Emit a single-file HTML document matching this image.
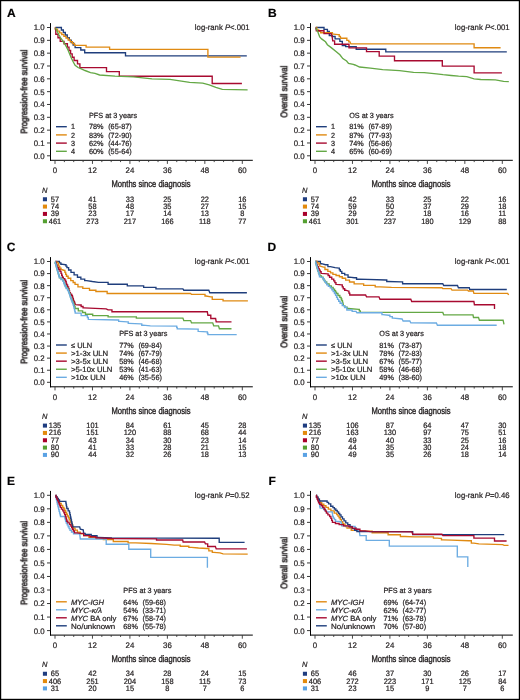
<!DOCTYPE html>
<html><head><meta charset="utf-8"><title>Survival curves</title>
<style>
html,body{margin:0;padding:0;background:#fff;}
body{width:520px;height:700px;overflow:hidden;}
svg{display:block;font-family:"Liberation Sans", sans-serif;text-rendering:geometricPrecision;}
text{will-change:transform;stroke:#231f20;stroke-width:0.22px;}
text.at{stroke-width:0.38px;}
text.yt{stroke-width:0.55px;}
</style></head><body>
<svg width="520" height="700" viewBox="0 0 520 700">
<rect x="0" y="0" width="520" height="700" fill="#fff"/>
<text transform="translate(7.00,16.70)" font-size="12" font-weight="bold" fill="#000">A</text>
<text transform="translate(249.60,29.80) scale(0.965,1)" font-size="8" text-anchor="end" fill="#231f20">log-rank <tspan font-style="italic">P</tspan>&lt;.001</text>
<line x1="50.50" y1="23.10" x2="50.50" y2="160.80" stroke="#000" stroke-width="1.0"/>
<line x1="50.00" y1="160.30" x2="252.80" y2="160.30" stroke="#000" stroke-width="1.0"/>
<line x1="47.00" y1="155.80" x2="50.50" y2="155.80" stroke="#222" stroke-width="0.9"/>
<text transform="translate(44.60,158.70) scale(0.98,1)" font-size="8" text-anchor="end" fill="#231f20">0.0</text>
<line x1="47.00" y1="142.97" x2="50.50" y2="142.97" stroke="#222" stroke-width="0.9"/>
<text transform="translate(44.60,145.87) scale(0.98,1)" font-size="8" text-anchor="end" fill="#231f20">0.1</text>
<line x1="47.00" y1="130.14" x2="50.50" y2="130.14" stroke="#222" stroke-width="0.9"/>
<text transform="translate(44.60,133.04) scale(0.98,1)" font-size="8" text-anchor="end" fill="#231f20">0.2</text>
<line x1="47.00" y1="117.31" x2="50.50" y2="117.31" stroke="#222" stroke-width="0.9"/>
<text transform="translate(44.60,120.21) scale(0.98,1)" font-size="8" text-anchor="end" fill="#231f20">0.3</text>
<line x1="47.00" y1="104.48" x2="50.50" y2="104.48" stroke="#222" stroke-width="0.9"/>
<text transform="translate(44.60,107.38) scale(0.98,1)" font-size="8" text-anchor="end" fill="#231f20">0.4</text>
<line x1="47.00" y1="91.65" x2="50.50" y2="91.65" stroke="#222" stroke-width="0.9"/>
<text transform="translate(44.60,94.55) scale(0.98,1)" font-size="8" text-anchor="end" fill="#231f20">0.5</text>
<line x1="47.00" y1="78.82" x2="50.50" y2="78.82" stroke="#222" stroke-width="0.9"/>
<text transform="translate(44.60,81.72) scale(0.98,1)" font-size="8" text-anchor="end" fill="#231f20">0.6</text>
<line x1="47.00" y1="65.99" x2="50.50" y2="65.99" stroke="#222" stroke-width="0.9"/>
<text transform="translate(44.60,68.89) scale(0.98,1)" font-size="8" text-anchor="end" fill="#231f20">0.7</text>
<line x1="47.00" y1="53.16" x2="50.50" y2="53.16" stroke="#222" stroke-width="0.9"/>
<text transform="translate(44.60,56.06) scale(0.98,1)" font-size="8" text-anchor="end" fill="#231f20">0.8</text>
<line x1="47.00" y1="40.33" x2="50.50" y2="40.33" stroke="#222" stroke-width="0.9"/>
<text transform="translate(44.60,43.23) scale(0.98,1)" font-size="8" text-anchor="end" fill="#231f20">0.9</text>
<line x1="47.00" y1="27.50" x2="50.50" y2="27.50" stroke="#222" stroke-width="0.9"/>
<text transform="translate(44.60,30.40) scale(0.98,1)" font-size="8" text-anchor="end" fill="#231f20">1.0</text>
<line x1="55.00" y1="160.30" x2="55.00" y2="163.90" stroke="#333" stroke-width="0.9"/>
<text transform="translate(55.00,173.30) scale(0.98,1)" font-size="8" text-anchor="middle" fill="#231f20">0</text>
<line x1="64.37" y1="160.30" x2="64.37" y2="162.10" stroke="#333" stroke-width="0.9"/>
<line x1="73.73" y1="160.30" x2="73.73" y2="162.10" stroke="#333" stroke-width="0.9"/>
<line x1="83.10" y1="160.30" x2="83.10" y2="162.10" stroke="#333" stroke-width="0.9"/>
<line x1="92.46" y1="160.30" x2="92.46" y2="163.90" stroke="#333" stroke-width="0.9"/>
<text transform="translate(92.46,173.30) scale(0.98,1)" font-size="8" text-anchor="middle" fill="#231f20">12</text>
<line x1="101.83" y1="160.30" x2="101.83" y2="162.10" stroke="#333" stroke-width="0.9"/>
<line x1="111.19" y1="160.30" x2="111.19" y2="162.10" stroke="#333" stroke-width="0.9"/>
<line x1="120.56" y1="160.30" x2="120.56" y2="162.10" stroke="#333" stroke-width="0.9"/>
<line x1="129.92" y1="160.30" x2="129.92" y2="163.90" stroke="#333" stroke-width="0.9"/>
<text transform="translate(129.92,173.30) scale(0.98,1)" font-size="8" text-anchor="middle" fill="#231f20">24</text>
<line x1="139.29" y1="160.30" x2="139.29" y2="162.10" stroke="#333" stroke-width="0.9"/>
<line x1="148.65" y1="160.30" x2="148.65" y2="162.10" stroke="#333" stroke-width="0.9"/>
<line x1="158.02" y1="160.30" x2="158.02" y2="162.10" stroke="#333" stroke-width="0.9"/>
<line x1="167.38" y1="160.30" x2="167.38" y2="163.90" stroke="#333" stroke-width="0.9"/>
<text transform="translate(167.38,173.30) scale(0.98,1)" font-size="8" text-anchor="middle" fill="#231f20">36</text>
<line x1="176.75" y1="160.30" x2="176.75" y2="162.10" stroke="#333" stroke-width="0.9"/>
<line x1="186.11" y1="160.30" x2="186.11" y2="162.10" stroke="#333" stroke-width="0.9"/>
<line x1="195.48" y1="160.30" x2="195.48" y2="162.10" stroke="#333" stroke-width="0.9"/>
<line x1="204.84" y1="160.30" x2="204.84" y2="163.90" stroke="#333" stroke-width="0.9"/>
<text transform="translate(204.84,173.30) scale(0.98,1)" font-size="8" text-anchor="middle" fill="#231f20">48</text>
<line x1="214.21" y1="160.30" x2="214.21" y2="162.10" stroke="#333" stroke-width="0.9"/>
<line x1="223.57" y1="160.30" x2="223.57" y2="162.10" stroke="#333" stroke-width="0.9"/>
<line x1="232.94" y1="160.30" x2="232.94" y2="162.10" stroke="#333" stroke-width="0.9"/>
<line x1="242.30" y1="160.30" x2="242.30" y2="163.90" stroke="#333" stroke-width="0.9"/>
<text transform="translate(242.30,173.30) scale(0.98,1)" font-size="8" text-anchor="middle" fill="#231f20">60</text>
<text transform="translate(151.00,187.10) scale(0.8,1)" font-size="9.5" text-anchor="middle" fill="#231f20" class="at">Months since diagnosis</text>
<text transform="translate(27.30,91.65) rotate(-90) scale(0.80,1)" font-size="9.5" text-anchor="middle" fill="#231f20" class="yt">Progression-free survival</text>
<text transform="translate(89.00,117.80) scale(0.97,1)" font-size="7.5" fill="#231f20">PFS at 3 years</text>
<line x1="56.00" y1="126.70" x2="66.80" y2="126.70" stroke="#1f3e7c" stroke-width="1.4"/>
<text transform="translate(71.00,129.40) scale(0.97,1)" font-size="7.5" fill="#231f20">1</text>
<text transform="translate(89.00,129.40) scale(0.97,1)" font-size="7.5" fill="#231f20">78%</text>
<text transform="translate(108.20,129.40) scale(0.97,1)" font-size="7.5" fill="#231f20">(65-87)</text>
<line x1="56.00" y1="134.90" x2="66.80" y2="134.90" stroke="#e08a12" stroke-width="1.4"/>
<text transform="translate(71.00,137.60) scale(0.97,1)" font-size="7.5" fill="#231f20">2</text>
<text transform="translate(89.00,137.60) scale(0.97,1)" font-size="7.5" fill="#231f20">83%</text>
<text transform="translate(108.20,137.60) scale(0.97,1)" font-size="7.5" fill="#231f20">(72-90)</text>
<line x1="56.00" y1="143.10" x2="66.80" y2="143.10" stroke="#a80a30" stroke-width="1.4"/>
<text transform="translate(71.00,145.80) scale(0.97,1)" font-size="7.5" fill="#231f20">3</text>
<text transform="translate(89.00,145.80) scale(0.97,1)" font-size="7.5" fill="#231f20">62%</text>
<text transform="translate(108.20,145.80) scale(0.97,1)" font-size="7.5" fill="#231f20">(44-76)</text>
<line x1="56.00" y1="151.30" x2="66.80" y2="151.30" stroke="#64a845" stroke-width="1.4"/>
<text transform="translate(71.00,154.00) scale(0.97,1)" font-size="7.5" fill="#231f20">4</text>
<text transform="translate(89.00,154.00) scale(0.97,1)" font-size="7.5" fill="#231f20">60%</text>
<text transform="translate(108.20,154.00) scale(0.97,1)" font-size="7.5" fill="#231f20">(55-64)</text>
<text transform="translate(42.10,192.95)" font-size="7.5" font-style="italic" fill="#231f20">N</text>
<rect x="42.90" y="197.25" width="4.1" height="4" fill="#1f3d80"/>
<text transform="translate(55.00,201.80) scale(0.95,1)" font-size="7.8" text-anchor="middle" fill="#231f20">57</text>
<text transform="translate(92.46,201.80) scale(0.95,1)" font-size="7.8" text-anchor="middle" fill="#231f20">41</text>
<text transform="translate(129.92,201.80) scale(0.95,1)" font-size="7.8" text-anchor="middle" fill="#231f20">33</text>
<text transform="translate(167.38,201.80) scale(0.95,1)" font-size="7.8" text-anchor="middle" fill="#231f20">25</text>
<text transform="translate(204.84,201.80) scale(0.95,1)" font-size="7.8" text-anchor="middle" fill="#231f20">22</text>
<text transform="translate(242.30,201.80) scale(0.95,1)" font-size="7.8" text-anchor="middle" fill="#231f20">16</text>
<rect x="42.90" y="204.58" width="4.1" height="4" fill="#e38a0c"/>
<text transform="translate(55.00,209.13) scale(0.95,1)" font-size="7.8" text-anchor="middle" fill="#231f20">74</text>
<text transform="translate(92.46,209.13) scale(0.95,1)" font-size="7.8" text-anchor="middle" fill="#231f20">58</text>
<text transform="translate(129.92,209.13) scale(0.95,1)" font-size="7.8" text-anchor="middle" fill="#231f20">48</text>
<text transform="translate(167.38,209.13) scale(0.95,1)" font-size="7.8" text-anchor="middle" fill="#231f20">35</text>
<text transform="translate(204.84,209.13) scale(0.95,1)" font-size="7.8" text-anchor="middle" fill="#231f20">27</text>
<text transform="translate(242.30,209.13) scale(0.95,1)" font-size="7.8" text-anchor="middle" fill="#231f20">15</text>
<rect x="42.90" y="211.91" width="4.1" height="4" fill="#a8002a"/>
<text transform="translate(55.00,216.46) scale(0.95,1)" font-size="7.8" text-anchor="middle" fill="#231f20">39</text>
<text transform="translate(92.46,216.46) scale(0.95,1)" font-size="7.8" text-anchor="middle" fill="#231f20">23</text>
<text transform="translate(129.92,216.46) scale(0.95,1)" font-size="7.8" text-anchor="middle" fill="#231f20">17</text>
<text transform="translate(167.38,216.46) scale(0.95,1)" font-size="7.8" text-anchor="middle" fill="#231f20">14</text>
<text transform="translate(204.84,216.46) scale(0.95,1)" font-size="7.8" text-anchor="middle" fill="#231f20">13</text>
<text transform="translate(242.30,216.46) scale(0.95,1)" font-size="7.8" text-anchor="middle" fill="#231f20">8</text>
<rect x="42.90" y="219.24" width="4.1" height="4" fill="#55a032"/>
<text transform="translate(55.00,223.79) scale(0.95,1)" font-size="7.8" text-anchor="middle" fill="#231f20">461</text>
<text transform="translate(92.46,223.79) scale(0.95,1)" font-size="7.8" text-anchor="middle" fill="#231f20">273</text>
<text transform="translate(129.92,223.79) scale(0.95,1)" font-size="7.8" text-anchor="middle" fill="#231f20">217</text>
<text transform="translate(167.38,223.79) scale(0.95,1)" font-size="7.8" text-anchor="middle" fill="#231f20">166</text>
<text transform="translate(204.84,223.79) scale(0.95,1)" font-size="7.8" text-anchor="middle" fill="#231f20">118</text>
<text transform="translate(242.30,223.79) scale(0.95,1)" font-size="7.8" text-anchor="middle" fill="#231f20">77</text>
<polyline points="55.40,27.50 61.40,27.50 61.40,30.01 63.36,30.01 63.36,32.52 65.31,32.52 65.31,35.04 67.27,35.04 67.27,37.55 69.23,37.55 69.23,40.06 71.19,40.06 71.19,42.58 73.14,42.58 73.14,45.09 75.10,45.09 75.10,47.60 80.80,47.60 80.80,50.00 84.70,50.00 84.70,52.70 125.50,52.70 125.50,55.80 246.80,55.80" fill="none" stroke="#1f3e7c" stroke-width="1.35" stroke-linejoin="miter" stroke-linecap="butt"/>
<polyline points="55.40,27.50 55.40,29.28 57.52,29.28 57.52,31.06 59.64,31.06 59.64,32.84 61.77,32.84 61.77,34.62 63.89,34.62 63.89,36.40 66.01,36.40 66.01,38.18 68.13,38.18 68.13,39.96 70.26,39.96 70.26,41.74 72.38,41.74 72.38,43.52 74.50,43.52 74.50,45.30 86.10,45.30 86.10,47.10 109.60,47.10 109.60,49.40 207.90,49.40 207.90,57.10 240.60,57.10" fill="none" stroke="#e08a12" stroke-width="1.35" stroke-linejoin="miter" stroke-linecap="butt"/>
<polyline points="55.20,27.50 55.80,30.70 55.80,34.23 58.00,34.23 58.00,37.77 60.20,37.77 60.20,41.30 64.00,41.30 64.00,43.70 67.40,43.70 67.40,47.08 69.00,47.08 69.00,50.45 70.60,50.45 70.60,53.83 72.20,53.83 72.20,57.20 74.10,57.20 74.10,60.50 77.50,60.50 77.50,63.90 79.90,63.90 79.90,67.60 106.50,67.60 106.50,71.60 119.30,71.60 119.30,76.20 212.20,76.20 212.20,83.50 241.90,83.50" fill="none" stroke="#a80a30" stroke-width="1.35" stroke-linejoin="miter" stroke-linecap="butt"/>
<polyline points="55.40,27.70 57.00,31.00 59.00,35.00 61.00,38.50 63.50,42.00 65.50,45.20 68.00,50.00 71.20,57.70 73.00,61.50 75.10,65.30 78.00,67.50 80.80,68.70 85.00,70.50 90.50,72.60 95.00,73.40 99.60,75.00 115.00,76.20 133.50,76.80 152.00,78.80 170.00,79.30 179.80,80.80 189.60,82.40 202.70,83.20 209.20,84.90 215.80,87.30 222.30,89.40 247.60,89.80" fill="none" stroke="#64a845" stroke-width="1.35" stroke-linejoin="miter" stroke-linecap="butt"/>
<text transform="translate(267.90,16.70)" font-size="12" font-weight="bold" fill="#000">B</text>
<text transform="translate(509.60,29.80) scale(0.965,1)" font-size="8" text-anchor="end" fill="#231f20">log-rank <tspan font-style="italic">P</tspan>&lt;.001</text>
<line x1="310.50" y1="23.10" x2="310.50" y2="160.80" stroke="#000" stroke-width="1.0"/>
<line x1="310.00" y1="160.30" x2="512.80" y2="160.30" stroke="#000" stroke-width="1.0"/>
<line x1="307.00" y1="155.80" x2="310.50" y2="155.80" stroke="#222" stroke-width="0.9"/>
<text transform="translate(304.60,158.70) scale(0.98,1)" font-size="8" text-anchor="end" fill="#231f20">0.0</text>
<line x1="307.00" y1="142.97" x2="310.50" y2="142.97" stroke="#222" stroke-width="0.9"/>
<text transform="translate(304.60,145.87) scale(0.98,1)" font-size="8" text-anchor="end" fill="#231f20">0.1</text>
<line x1="307.00" y1="130.14" x2="310.50" y2="130.14" stroke="#222" stroke-width="0.9"/>
<text transform="translate(304.60,133.04) scale(0.98,1)" font-size="8" text-anchor="end" fill="#231f20">0.2</text>
<line x1="307.00" y1="117.31" x2="310.50" y2="117.31" stroke="#222" stroke-width="0.9"/>
<text transform="translate(304.60,120.21) scale(0.98,1)" font-size="8" text-anchor="end" fill="#231f20">0.3</text>
<line x1="307.00" y1="104.48" x2="310.50" y2="104.48" stroke="#222" stroke-width="0.9"/>
<text transform="translate(304.60,107.38) scale(0.98,1)" font-size="8" text-anchor="end" fill="#231f20">0.4</text>
<line x1="307.00" y1="91.65" x2="310.50" y2="91.65" stroke="#222" stroke-width="0.9"/>
<text transform="translate(304.60,94.55) scale(0.98,1)" font-size="8" text-anchor="end" fill="#231f20">0.5</text>
<line x1="307.00" y1="78.82" x2="310.50" y2="78.82" stroke="#222" stroke-width="0.9"/>
<text transform="translate(304.60,81.72) scale(0.98,1)" font-size="8" text-anchor="end" fill="#231f20">0.6</text>
<line x1="307.00" y1="65.99" x2="310.50" y2="65.99" stroke="#222" stroke-width="0.9"/>
<text transform="translate(304.60,68.89) scale(0.98,1)" font-size="8" text-anchor="end" fill="#231f20">0.7</text>
<line x1="307.00" y1="53.16" x2="310.50" y2="53.16" stroke="#222" stroke-width="0.9"/>
<text transform="translate(304.60,56.06) scale(0.98,1)" font-size="8" text-anchor="end" fill="#231f20">0.8</text>
<line x1="307.00" y1="40.33" x2="310.50" y2="40.33" stroke="#222" stroke-width="0.9"/>
<text transform="translate(304.60,43.23) scale(0.98,1)" font-size="8" text-anchor="end" fill="#231f20">0.9</text>
<line x1="307.00" y1="27.50" x2="310.50" y2="27.50" stroke="#222" stroke-width="0.9"/>
<text transform="translate(304.60,30.40) scale(0.98,1)" font-size="8" text-anchor="end" fill="#231f20">1.0</text>
<line x1="315.00" y1="160.30" x2="315.00" y2="163.90" stroke="#333" stroke-width="0.9"/>
<text transform="translate(315.00,173.30) scale(0.98,1)" font-size="8" text-anchor="middle" fill="#231f20">0</text>
<line x1="324.37" y1="160.30" x2="324.37" y2="162.10" stroke="#333" stroke-width="0.9"/>
<line x1="333.73" y1="160.30" x2="333.73" y2="162.10" stroke="#333" stroke-width="0.9"/>
<line x1="343.10" y1="160.30" x2="343.10" y2="162.10" stroke="#333" stroke-width="0.9"/>
<line x1="352.46" y1="160.30" x2="352.46" y2="163.90" stroke="#333" stroke-width="0.9"/>
<text transform="translate(352.46,173.30) scale(0.98,1)" font-size="8" text-anchor="middle" fill="#231f20">12</text>
<line x1="361.83" y1="160.30" x2="361.83" y2="162.10" stroke="#333" stroke-width="0.9"/>
<line x1="371.19" y1="160.30" x2="371.19" y2="162.10" stroke="#333" stroke-width="0.9"/>
<line x1="380.56" y1="160.30" x2="380.56" y2="162.10" stroke="#333" stroke-width="0.9"/>
<line x1="389.92" y1="160.30" x2="389.92" y2="163.90" stroke="#333" stroke-width="0.9"/>
<text transform="translate(389.92,173.30) scale(0.98,1)" font-size="8" text-anchor="middle" fill="#231f20">24</text>
<line x1="399.29" y1="160.30" x2="399.29" y2="162.10" stroke="#333" stroke-width="0.9"/>
<line x1="408.65" y1="160.30" x2="408.65" y2="162.10" stroke="#333" stroke-width="0.9"/>
<line x1="418.02" y1="160.30" x2="418.02" y2="162.10" stroke="#333" stroke-width="0.9"/>
<line x1="427.38" y1="160.30" x2="427.38" y2="163.90" stroke="#333" stroke-width="0.9"/>
<text transform="translate(427.38,173.30) scale(0.98,1)" font-size="8" text-anchor="middle" fill="#231f20">36</text>
<line x1="436.75" y1="160.30" x2="436.75" y2="162.10" stroke="#333" stroke-width="0.9"/>
<line x1="446.11" y1="160.30" x2="446.11" y2="162.10" stroke="#333" stroke-width="0.9"/>
<line x1="455.48" y1="160.30" x2="455.48" y2="162.10" stroke="#333" stroke-width="0.9"/>
<line x1="464.84" y1="160.30" x2="464.84" y2="163.90" stroke="#333" stroke-width="0.9"/>
<text transform="translate(464.84,173.30) scale(0.98,1)" font-size="8" text-anchor="middle" fill="#231f20">48</text>
<line x1="474.21" y1="160.30" x2="474.21" y2="162.10" stroke="#333" stroke-width="0.9"/>
<line x1="483.57" y1="160.30" x2="483.57" y2="162.10" stroke="#333" stroke-width="0.9"/>
<line x1="492.94" y1="160.30" x2="492.94" y2="162.10" stroke="#333" stroke-width="0.9"/>
<line x1="502.30" y1="160.30" x2="502.30" y2="163.90" stroke="#333" stroke-width="0.9"/>
<text transform="translate(502.30,173.30) scale(0.98,1)" font-size="8" text-anchor="middle" fill="#231f20">60</text>
<text transform="translate(411.00,187.10) scale(0.8,1)" font-size="9.5" text-anchor="middle" fill="#231f20" class="at">Months since diagnosis</text>
<text transform="translate(287.30,91.65) rotate(-90) scale(0.80,1)" font-size="9.5" text-anchor="middle" fill="#231f20" class="yt">Overall survival</text>
<text transform="translate(349.20,117.80) scale(0.97,1)" font-size="7.5" fill="#231f20">OS at 3 years</text>
<line x1="316.00" y1="126.70" x2="326.80" y2="126.70" stroke="#1f3e7c" stroke-width="1.4"/>
<text transform="translate(331.00,129.40) scale(0.97,1)" font-size="7.5" fill="#231f20">1</text>
<text transform="translate(349.20,129.40) scale(0.97,1)" font-size="7.5" fill="#231f20">81%</text>
<text transform="translate(368.40,129.40) scale(0.97,1)" font-size="7.5" fill="#231f20">(67-89)</text>
<line x1="316.00" y1="134.90" x2="326.80" y2="134.90" stroke="#e08a12" stroke-width="1.4"/>
<text transform="translate(331.00,137.60) scale(0.97,1)" font-size="7.5" fill="#231f20">2</text>
<text transform="translate(349.20,137.60) scale(0.97,1)" font-size="7.5" fill="#231f20">87%</text>
<text transform="translate(368.40,137.60) scale(0.97,1)" font-size="7.5" fill="#231f20">(77-93)</text>
<line x1="316.00" y1="143.10" x2="326.80" y2="143.10" stroke="#a80a30" stroke-width="1.4"/>
<text transform="translate(331.00,145.80) scale(0.97,1)" font-size="7.5" fill="#231f20">3</text>
<text transform="translate(349.20,145.80) scale(0.97,1)" font-size="7.5" fill="#231f20">74%</text>
<text transform="translate(368.40,145.80) scale(0.97,1)" font-size="7.5" fill="#231f20">(56-86)</text>
<line x1="316.00" y1="151.30" x2="326.80" y2="151.30" stroke="#64a845" stroke-width="1.4"/>
<text transform="translate(331.00,154.00) scale(0.97,1)" font-size="7.5" fill="#231f20">4</text>
<text transform="translate(349.20,154.00) scale(0.97,1)" font-size="7.5" fill="#231f20">65%</text>
<text transform="translate(368.40,154.00) scale(0.97,1)" font-size="7.5" fill="#231f20">(60-69)</text>
<text transform="translate(302.10,192.95)" font-size="7.5" font-style="italic" fill="#231f20">N</text>
<rect x="302.90" y="197.25" width="4.1" height="4" fill="#1f3d80"/>
<text transform="translate(315.00,201.80) scale(0.95,1)" font-size="7.8" text-anchor="middle" fill="#231f20">57</text>
<text transform="translate(352.46,201.80) scale(0.95,1)" font-size="7.8" text-anchor="middle" fill="#231f20">42</text>
<text transform="translate(389.92,201.80) scale(0.95,1)" font-size="7.8" text-anchor="middle" fill="#231f20">33</text>
<text transform="translate(427.38,201.80) scale(0.95,1)" font-size="7.8" text-anchor="middle" fill="#231f20">25</text>
<text transform="translate(464.84,201.80) scale(0.95,1)" font-size="7.8" text-anchor="middle" fill="#231f20">22</text>
<text transform="translate(502.30,201.80) scale(0.95,1)" font-size="7.8" text-anchor="middle" fill="#231f20">16</text>
<rect x="302.90" y="204.58" width="4.1" height="4" fill="#e38a0c"/>
<text transform="translate(315.00,209.13) scale(0.95,1)" font-size="7.8" text-anchor="middle" fill="#231f20">74</text>
<text transform="translate(352.46,209.13) scale(0.95,1)" font-size="7.8" text-anchor="middle" fill="#231f20">59</text>
<text transform="translate(389.92,209.13) scale(0.95,1)" font-size="7.8" text-anchor="middle" fill="#231f20">50</text>
<text transform="translate(427.38,209.13) scale(0.95,1)" font-size="7.8" text-anchor="middle" fill="#231f20">37</text>
<text transform="translate(464.84,209.13) scale(0.95,1)" font-size="7.8" text-anchor="middle" fill="#231f20">29</text>
<text transform="translate(502.30,209.13) scale(0.95,1)" font-size="7.8" text-anchor="middle" fill="#231f20">18</text>
<rect x="302.90" y="211.91" width="4.1" height="4" fill="#a8002a"/>
<text transform="translate(315.00,216.46) scale(0.95,1)" font-size="7.8" text-anchor="middle" fill="#231f20">39</text>
<text transform="translate(352.46,216.46) scale(0.95,1)" font-size="7.8" text-anchor="middle" fill="#231f20">29</text>
<text transform="translate(389.92,216.46) scale(0.95,1)" font-size="7.8" text-anchor="middle" fill="#231f20">22</text>
<text transform="translate(427.38,216.46) scale(0.95,1)" font-size="7.8" text-anchor="middle" fill="#231f20">18</text>
<text transform="translate(464.84,216.46) scale(0.95,1)" font-size="7.8" text-anchor="middle" fill="#231f20">16</text>
<text transform="translate(502.30,216.46) scale(0.95,1)" font-size="7.8" text-anchor="middle" fill="#231f20">11</text>
<rect x="302.90" y="219.24" width="4.1" height="4" fill="#55a032"/>
<text transform="translate(315.00,223.79) scale(0.95,1)" font-size="7.8" text-anchor="middle" fill="#231f20">461</text>
<text transform="translate(352.46,223.79) scale(0.95,1)" font-size="7.8" text-anchor="middle" fill="#231f20">301</text>
<text transform="translate(389.92,223.79) scale(0.95,1)" font-size="7.8" text-anchor="middle" fill="#231f20">237</text>
<text transform="translate(427.38,223.79) scale(0.95,1)" font-size="7.8" text-anchor="middle" fill="#231f20">180</text>
<text transform="translate(464.84,223.79) scale(0.95,1)" font-size="7.8" text-anchor="middle" fill="#231f20">129</text>
<text transform="translate(502.30,223.79) scale(0.95,1)" font-size="7.8" text-anchor="middle" fill="#231f20">88</text>
<polyline points="315.80,27.50 324.00,27.50 324.00,29.30 327.40,29.30 327.40,31.50 329.30,31.50 329.30,35.50 332.20,35.50 332.20,36.50 335.10,36.50 335.10,38.90 339.90,38.90 339.90,41.30 342.30,41.30 342.30,45.60 345.70,45.60 345.70,46.60 356.20,46.60 356.20,49.20 385.80,49.20 385.80,51.90 506.80,51.90" fill="none" stroke="#1f3e7c" stroke-width="1.35" stroke-linejoin="miter" stroke-linecap="butt"/>
<polyline points="315.80,27.50 316.80,27.50 316.80,29.80 317.80,29.80 318.75,29.80 318.75,31.25 320.65,31.25 320.65,32.70 321.60,32.70 331.20,32.70 332.40,32.70 332.40,34.10 333.60,34.10 338.00,34.60 339.20,34.60 339.20,36.50 340.40,36.50 340.80,38.20 346.10,38.20 346.85,38.20 346.85,40.30 347.60,40.30 348.80,40.30 348.80,41.80 350.00,41.80 350.90,43.90 474.10,43.90 474.10,47.70 500.60,47.70" fill="none" stroke="#e08a12" stroke-width="1.35" stroke-linejoin="miter" stroke-linecap="butt"/>
<polyline points="315.80,27.50 316.30,30.70 324.00,30.70 324.00,33.60 331.20,33.60 332.20,37.00 332.70,40.80 334.60,40.80 334.60,44.20 349.00,44.20 349.00,47.80 366.50,47.80 366.50,51.60 379.20,51.60 379.20,56.10 394.50,56.10 394.50,60.70 442.30,60.70 442.30,66.10 474.10,66.10 474.10,72.90 501.90,72.90" fill="none" stroke="#a80a30" stroke-width="1.35" stroke-linejoin="miter" stroke-linecap="butt"/>
<polyline points="315.80,27.70 317.80,31.70 319.70,37.00 321.60,38.90 325.50,41.80 327.40,44.70 331.20,47.60 336.00,51.40 339.90,54.80 342.80,58.60 346.60,61.00 348.50,63.40 353.30,64.40 355.00,65.00 359.60,67.00 370.40,68.10 382.70,69.60 399.60,70.70 413.50,72.40 424.20,72.70 436.50,73.90 443.10,74.70 451.20,75.50 458.60,76.20 466.80,76.70 474.10,78.80 480.70,79.50 495.40,79.90 503.60,81.30 508.80,81.60" fill="none" stroke="#64a845" stroke-width="1.35" stroke-linejoin="miter" stroke-linecap="butt"/>
<text transform="translate(6.70,250.70)" font-size="12" font-weight="bold" fill="#000">C</text>
<text transform="translate(249.60,263.80) scale(0.965,1)" font-size="8" text-anchor="end" fill="#231f20">log-rank <tspan font-style="italic">P</tspan>&lt;.001</text>
<line x1="50.50" y1="257.10" x2="50.50" y2="387.30" stroke="#000" stroke-width="1.0"/>
<line x1="50.00" y1="386.80" x2="252.80" y2="386.80" stroke="#000" stroke-width="1.0"/>
<line x1="47.00" y1="382.30" x2="50.50" y2="382.30" stroke="#222" stroke-width="0.9"/>
<text transform="translate(44.60,385.20) scale(0.98,1)" font-size="8" text-anchor="end" fill="#231f20">0.0</text>
<line x1="47.00" y1="370.22" x2="50.50" y2="370.22" stroke="#222" stroke-width="0.9"/>
<text transform="translate(44.60,373.12) scale(0.98,1)" font-size="8" text-anchor="end" fill="#231f20">0.1</text>
<line x1="47.00" y1="358.14" x2="50.50" y2="358.14" stroke="#222" stroke-width="0.9"/>
<text transform="translate(44.60,361.04) scale(0.98,1)" font-size="8" text-anchor="end" fill="#231f20">0.2</text>
<line x1="47.00" y1="346.06" x2="50.50" y2="346.06" stroke="#222" stroke-width="0.9"/>
<text transform="translate(44.60,348.96) scale(0.98,1)" font-size="8" text-anchor="end" fill="#231f20">0.3</text>
<line x1="47.00" y1="333.98" x2="50.50" y2="333.98" stroke="#222" stroke-width="0.9"/>
<text transform="translate(44.60,336.88) scale(0.98,1)" font-size="8" text-anchor="end" fill="#231f20">0.4</text>
<line x1="47.00" y1="321.90" x2="50.50" y2="321.90" stroke="#222" stroke-width="0.9"/>
<text transform="translate(44.60,324.80) scale(0.98,1)" font-size="8" text-anchor="end" fill="#231f20">0.5</text>
<line x1="47.00" y1="309.82" x2="50.50" y2="309.82" stroke="#222" stroke-width="0.9"/>
<text transform="translate(44.60,312.72) scale(0.98,1)" font-size="8" text-anchor="end" fill="#231f20">0.6</text>
<line x1="47.00" y1="297.74" x2="50.50" y2="297.74" stroke="#222" stroke-width="0.9"/>
<text transform="translate(44.60,300.64) scale(0.98,1)" font-size="8" text-anchor="end" fill="#231f20">0.7</text>
<line x1="47.00" y1="285.66" x2="50.50" y2="285.66" stroke="#222" stroke-width="0.9"/>
<text transform="translate(44.60,288.56) scale(0.98,1)" font-size="8" text-anchor="end" fill="#231f20">0.8</text>
<line x1="47.00" y1="273.58" x2="50.50" y2="273.58" stroke="#222" stroke-width="0.9"/>
<text transform="translate(44.60,276.48) scale(0.98,1)" font-size="8" text-anchor="end" fill="#231f20">0.9</text>
<line x1="47.00" y1="261.50" x2="50.50" y2="261.50" stroke="#222" stroke-width="0.9"/>
<text transform="translate(44.60,264.40) scale(0.98,1)" font-size="8" text-anchor="end" fill="#231f20">1.0</text>
<line x1="55.00" y1="386.80" x2="55.00" y2="390.40" stroke="#333" stroke-width="0.9"/>
<text transform="translate(55.00,399.80) scale(0.98,1)" font-size="8" text-anchor="middle" fill="#231f20">0</text>
<line x1="64.37" y1="386.80" x2="64.37" y2="388.60" stroke="#333" stroke-width="0.9"/>
<line x1="73.73" y1="386.80" x2="73.73" y2="388.60" stroke="#333" stroke-width="0.9"/>
<line x1="83.10" y1="386.80" x2="83.10" y2="388.60" stroke="#333" stroke-width="0.9"/>
<line x1="92.46" y1="386.80" x2="92.46" y2="390.40" stroke="#333" stroke-width="0.9"/>
<text transform="translate(92.46,399.80) scale(0.98,1)" font-size="8" text-anchor="middle" fill="#231f20">12</text>
<line x1="101.83" y1="386.80" x2="101.83" y2="388.60" stroke="#333" stroke-width="0.9"/>
<line x1="111.19" y1="386.80" x2="111.19" y2="388.60" stroke="#333" stroke-width="0.9"/>
<line x1="120.56" y1="386.80" x2="120.56" y2="388.60" stroke="#333" stroke-width="0.9"/>
<line x1="129.92" y1="386.80" x2="129.92" y2="390.40" stroke="#333" stroke-width="0.9"/>
<text transform="translate(129.92,399.80) scale(0.98,1)" font-size="8" text-anchor="middle" fill="#231f20">24</text>
<line x1="139.29" y1="386.80" x2="139.29" y2="388.60" stroke="#333" stroke-width="0.9"/>
<line x1="148.65" y1="386.80" x2="148.65" y2="388.60" stroke="#333" stroke-width="0.9"/>
<line x1="158.02" y1="386.80" x2="158.02" y2="388.60" stroke="#333" stroke-width="0.9"/>
<line x1="167.38" y1="386.80" x2="167.38" y2="390.40" stroke="#333" stroke-width="0.9"/>
<text transform="translate(167.38,399.80) scale(0.98,1)" font-size="8" text-anchor="middle" fill="#231f20">36</text>
<line x1="176.75" y1="386.80" x2="176.75" y2="388.60" stroke="#333" stroke-width="0.9"/>
<line x1="186.11" y1="386.80" x2="186.11" y2="388.60" stroke="#333" stroke-width="0.9"/>
<line x1="195.48" y1="386.80" x2="195.48" y2="388.60" stroke="#333" stroke-width="0.9"/>
<line x1="204.84" y1="386.80" x2="204.84" y2="390.40" stroke="#333" stroke-width="0.9"/>
<text transform="translate(204.84,399.80) scale(0.98,1)" font-size="8" text-anchor="middle" fill="#231f20">48</text>
<line x1="214.21" y1="386.80" x2="214.21" y2="388.60" stroke="#333" stroke-width="0.9"/>
<line x1="223.57" y1="386.80" x2="223.57" y2="388.60" stroke="#333" stroke-width="0.9"/>
<line x1="232.94" y1="386.80" x2="232.94" y2="388.60" stroke="#333" stroke-width="0.9"/>
<line x1="242.30" y1="386.80" x2="242.30" y2="390.40" stroke="#333" stroke-width="0.9"/>
<text transform="translate(242.30,399.80) scale(0.98,1)" font-size="8" text-anchor="middle" fill="#231f20">60</text>
<text transform="translate(151.00,413.60) scale(0.8,1)" font-size="9.5" text-anchor="middle" fill="#231f20" class="at">Months since diagnosis</text>
<text transform="translate(27.30,321.90) rotate(-90) scale(0.80,1)" font-size="9.5" text-anchor="middle" fill="#231f20" class="yt">Progression-free survival</text>
<text transform="translate(119.20,336.10) scale(0.97,1)" font-size="7.5" fill="#231f20">PFS at 3 years</text>
<line x1="56.00" y1="345.00" x2="66.80" y2="345.00" stroke="#1f3e7c" stroke-width="1.4"/>
<text x="71.00" y="347.70" font-size="7.5" fill="#231f20" textLength="21.20" lengthAdjust="spacingAndGlyphs">≤ ULN</text>
<text transform="translate(119.20,347.70) scale(0.97,1)" font-size="7.5" fill="#231f20">77%</text>
<text transform="translate(138.40,347.70) scale(0.97,1)" font-size="7.5" fill="#231f20">(69-84)</text>
<line x1="56.00" y1="353.08" x2="66.80" y2="353.08" stroke="#e08a12" stroke-width="1.4"/>
<text x="71.00" y="355.78" font-size="7.5" fill="#231f20" textLength="37.20" lengthAdjust="spacingAndGlyphs">&gt;1-3x ULN</text>
<text transform="translate(119.20,355.78) scale(0.97,1)" font-size="7.5" fill="#231f20">74%</text>
<text transform="translate(138.40,355.78) scale(0.97,1)" font-size="7.5" fill="#231f20">(67-79)</text>
<line x1="56.00" y1="361.16" x2="66.80" y2="361.16" stroke="#a80a30" stroke-width="1.4"/>
<text x="71.00" y="363.86" font-size="7.5" fill="#231f20" textLength="37.20" lengthAdjust="spacingAndGlyphs">&gt;3-5x ULN</text>
<text transform="translate(119.20,363.86) scale(0.97,1)" font-size="7.5" fill="#231f20">58%</text>
<text transform="translate(138.40,363.86) scale(0.97,1)" font-size="7.5" fill="#231f20">(46-68)</text>
<line x1="56.00" y1="369.24" x2="66.80" y2="369.24" stroke="#64a845" stroke-width="1.4"/>
<text x="71.00" y="371.94" font-size="7.5" fill="#231f20" textLength="41.35" lengthAdjust="spacingAndGlyphs">&gt;5-10x ULN</text>
<text transform="translate(119.20,371.94) scale(0.97,1)" font-size="7.5" fill="#231f20">53%</text>
<text transform="translate(138.40,371.94) scale(0.97,1)" font-size="7.5" fill="#231f20">(41-63)</text>
<line x1="56.00" y1="377.32" x2="66.80" y2="377.32" stroke="#6cacE2" stroke-width="1.4"/>
<text x="71.00" y="380.02" font-size="7.5" fill="#231f20" textLength="34.60" lengthAdjust="spacingAndGlyphs">&gt;10x ULN</text>
<text transform="translate(119.20,380.02) scale(0.97,1)" font-size="7.5" fill="#231f20">46%</text>
<text transform="translate(138.40,380.02) scale(0.97,1)" font-size="7.5" fill="#231f20">(35-56)</text>
<text transform="translate(42.10,419.30)" font-size="7.5" font-style="italic" fill="#231f20">N</text>
<rect x="42.90" y="423.60" width="4.1" height="4" fill="#1f3d80"/>
<text transform="translate(55.00,428.15) scale(0.95,1)" font-size="7.8" text-anchor="middle" fill="#231f20">135</text>
<text transform="translate(92.46,428.15) scale(0.95,1)" font-size="7.8" text-anchor="middle" fill="#231f20">101</text>
<text transform="translate(129.92,428.15) scale(0.95,1)" font-size="7.8" text-anchor="middle" fill="#231f20">84</text>
<text transform="translate(167.38,428.15) scale(0.95,1)" font-size="7.8" text-anchor="middle" fill="#231f20">61</text>
<text transform="translate(204.84,428.15) scale(0.95,1)" font-size="7.8" text-anchor="middle" fill="#231f20">45</text>
<text transform="translate(242.30,428.15) scale(0.95,1)" font-size="7.8" text-anchor="middle" fill="#231f20">28</text>
<rect x="42.90" y="430.93" width="4.1" height="4" fill="#e38a0c"/>
<text transform="translate(55.00,435.48) scale(0.95,1)" font-size="7.8" text-anchor="middle" fill="#231f20">216</text>
<text transform="translate(92.46,435.48) scale(0.95,1)" font-size="7.8" text-anchor="middle" fill="#231f20">151</text>
<text transform="translate(129.92,435.48) scale(0.95,1)" font-size="7.8" text-anchor="middle" fill="#231f20">120</text>
<text transform="translate(167.38,435.48) scale(0.95,1)" font-size="7.8" text-anchor="middle" fill="#231f20">88</text>
<text transform="translate(204.84,435.48) scale(0.95,1)" font-size="7.8" text-anchor="middle" fill="#231f20">68</text>
<text transform="translate(242.30,435.48) scale(0.95,1)" font-size="7.8" text-anchor="middle" fill="#231f20">44</text>
<rect x="42.90" y="438.26" width="4.1" height="4" fill="#a8002a"/>
<text transform="translate(55.00,442.81) scale(0.95,1)" font-size="7.8" text-anchor="middle" fill="#231f20">77</text>
<text transform="translate(92.46,442.81) scale(0.95,1)" font-size="7.8" text-anchor="middle" fill="#231f20">43</text>
<text transform="translate(129.92,442.81) scale(0.95,1)" font-size="7.8" text-anchor="middle" fill="#231f20">34</text>
<text transform="translate(167.38,442.81) scale(0.95,1)" font-size="7.8" text-anchor="middle" fill="#231f20">30</text>
<text transform="translate(204.84,442.81) scale(0.95,1)" font-size="7.8" text-anchor="middle" fill="#231f20">23</text>
<text transform="translate(242.30,442.81) scale(0.95,1)" font-size="7.8" text-anchor="middle" fill="#231f20">14</text>
<rect x="42.90" y="445.59" width="4.1" height="4" fill="#55a032"/>
<text transform="translate(55.00,450.14) scale(0.95,1)" font-size="7.8" text-anchor="middle" fill="#231f20">80</text>
<text transform="translate(92.46,450.14) scale(0.95,1)" font-size="7.8" text-anchor="middle" fill="#231f20">41</text>
<text transform="translate(129.92,450.14) scale(0.95,1)" font-size="7.8" text-anchor="middle" fill="#231f20">33</text>
<text transform="translate(167.38,450.14) scale(0.95,1)" font-size="7.8" text-anchor="middle" fill="#231f20">28</text>
<text transform="translate(204.84,450.14) scale(0.95,1)" font-size="7.8" text-anchor="middle" fill="#231f20">21</text>
<text transform="translate(242.30,450.14) scale(0.95,1)" font-size="7.8" text-anchor="middle" fill="#231f20">15</text>
<rect x="42.90" y="452.92" width="4.1" height="4" fill="#5aa2e4"/>
<text transform="translate(55.00,457.47) scale(0.95,1)" font-size="7.8" text-anchor="middle" fill="#231f20">90</text>
<text transform="translate(92.46,457.47) scale(0.95,1)" font-size="7.8" text-anchor="middle" fill="#231f20">44</text>
<text transform="translate(129.92,457.47) scale(0.95,1)" font-size="7.8" text-anchor="middle" fill="#231f20">32</text>
<text transform="translate(167.38,457.47) scale(0.95,1)" font-size="7.8" text-anchor="middle" fill="#231f20">26</text>
<text transform="translate(204.84,457.47) scale(0.95,1)" font-size="7.8" text-anchor="middle" fill="#231f20">18</text>
<text transform="translate(242.30,457.47) scale(0.95,1)" font-size="7.8" text-anchor="middle" fill="#231f20">13</text>
<polyline points="55.40,261.50 58.70,261.50 59.43,261.50 59.43,262.85 60.88,262.85 60.88,264.20 61.60,264.20 65.50,264.70 65.97,264.70 65.97,266.15 66.93,266.15 66.93,267.60 67.40,267.60 68.60,267.60 68.60,270.00 69.80,270.00 71.00,270.00 71.00,272.40 72.20,272.40 74.10,272.40 74.10,274.80 76.00,274.80 77.45,274.80 77.45,277.20 78.90,277.20 80.85,277.20 80.85,279.10 82.80,279.10 84.70,279.10 84.70,280.60 86.60,280.60 92.40,281.50 98.50,282.30 108.10,282.30 108.10,284.20 117.70,284.20 127.30,284.20 127.30,285.80 136.90,285.80 143.65,285.80 143.65,287.30 150.40,287.30 155.00,287.30 155.95,287.30 155.95,288.80 156.90,288.80 182.90,288.80 183.80,290.20 208.80,290.20 209.80,292.70 246.90,292.70" fill="none" stroke="#1f3e7c" stroke-width="1.35" stroke-linejoin="miter" stroke-linecap="butt"/>
<polyline points="55.40,261.50 57.80,262.30 58.03,262.30 58.03,263.73 58.50,263.73 58.50,265.17 58.97,265.17 58.97,266.60 59.20,266.60 59.80,266.60 59.80,268.05 61.00,268.05 61.00,269.50 61.60,269.50 64.50,270.50 64.90,270.50 64.90,272.40 65.70,272.40 65.70,274.30 66.50,274.30 66.50,276.20 66.90,276.20 68.10,276.20 68.10,278.20 69.30,278.20 70.75,278.20 70.75,280.60 72.20,280.60 73.15,280.60 73.15,282.50 75.05,282.50 75.05,284.40 76.00,284.40 77.95,284.40 77.95,286.80 79.90,286.80 82.80,286.80 82.80,288.30 85.70,288.30 89.50,288.30 89.50,290.20 93.30,290.20 95.90,290.20 95.90,291.50 98.50,291.50 107.15,291.50 107.15,293.50 115.80,293.50 190.60,293.50 191.50,294.40 204.00,294.40 205.00,294.40 205.00,296.00 206.00,296.00 210.80,296.90 212.25,296.90 212.25,299.40 213.70,299.40 222.30,299.40 223.05,299.40 223.05,300.80 223.80,300.80 247.90,300.80" fill="none" stroke="#e08a12" stroke-width="1.35" stroke-linejoin="miter" stroke-linecap="butt"/>
<polyline points="55.40,261.50 55.70,261.50 55.70,263.02 56.30,263.02 56.30,264.55 56.90,264.55 56.90,266.08 57.50,266.08 57.50,267.60 57.80,267.60 58.52,267.60 58.52,269.50 59.98,269.50 59.98,271.40 60.70,271.40 61.02,271.40 61.02,273.33 61.65,273.33 61.65,275.27 62.28,275.27 62.28,277.20 62.60,277.20 63.33,277.20 63.33,278.65 64.78,278.65 64.78,280.10 65.50,280.10 65.73,280.10 65.73,281.70 66.20,281.70 66.20,283.30 66.67,283.30 66.67,284.90 66.90,284.90 67.60,284.90 67.60,286.80 68.30,286.80 68.55,286.80 68.55,288.73 69.05,288.73 69.05,290.67 69.55,290.67 69.55,292.60 69.80,292.60 70.40,292.60 70.40,294.05 71.60,294.05 71.60,295.50 72.20,295.50 72.43,295.50 72.43,297.10 72.90,297.10 72.90,298.70 73.37,298.70 73.37,300.30 73.60,300.30 73.90,300.30 73.90,301.73 74.50,301.73 74.50,303.17 75.10,303.17 75.10,304.60 75.40,304.60 80.20,305.00 81.15,305.00 81.15,306.45 83.05,306.45 83.05,307.90 84.00,307.90 106.20,308.80 108.10,309.80 111.95,309.80 111.95,311.70 115.80,311.70 207.30,311.70 207.90,315.20 210.80,315.20 210.80,318.50 215.60,318.50 216.20,321.90 231.50,321.90" fill="none" stroke="#a80a30" stroke-width="1.35" stroke-linejoin="miter" stroke-linecap="butt"/>
<polyline points="55.00,261.80 55.23,261.80 55.23,263.40 55.70,263.40 55.70,265.00 56.17,265.00 56.17,266.60 56.63,266.60 56.63,268.20 57.10,268.20 57.10,269.80 57.57,269.80 57.57,271.40 57.80,271.40 58.04,271.40 58.04,272.97 58.51,272.97 58.51,274.55 58.99,274.55 58.99,276.12 59.46,276.12 59.46,277.70 59.70,277.70 61.15,277.70 61.15,279.10 62.60,279.10 62.96,279.10 62.96,280.78 63.69,280.78 63.69,282.45 64.41,282.45 64.41,284.12 65.14,284.12 65.14,285.80 65.50,285.80 66.20,285.80 66.20,287.75 67.60,287.75 67.60,289.70 68.30,289.70 68.59,289.70 68.59,291.42 69.17,291.42 69.17,293.14 69.75,293.14 69.75,294.86 70.33,294.86 70.33,296.58 70.91,296.58 70.91,298.30 71.20,298.30 71.58,298.30 71.58,299.90 72.35,299.90 72.35,301.50 73.12,301.50 73.12,303.10 73.50,303.10 73.82,303.10 73.82,304.90 74.45,304.90 74.45,306.70 75.08,306.70 75.08,308.50 75.40,308.50 78.30,308.50 78.30,310.80 81.20,310.80 82.62,310.80 82.62,312.50 85.48,312.50 85.48,314.20 86.90,314.20 92.70,314.20 92.70,315.60 98.50,315.60 108.10,315.60 108.10,316.90 117.70,316.90 136.35,316.90 136.35,318.10 155.00,318.10 182.90,318.10 183.80,320.60 190.60,320.60 191.50,322.90 212.70,322.90 213.70,325.80 218.50,325.80 219.40,328.70 231.50,328.70" fill="none" stroke="#64a845" stroke-width="1.35" stroke-linejoin="miter" stroke-linecap="butt"/>
<polyline points="55.00,261.80 55.25,261.80 55.25,263.54 55.75,263.54 55.75,265.28 56.25,265.28 56.25,267.02 56.75,267.02 56.75,268.76 57.25,268.76 57.25,270.50 57.50,270.50 57.75,270.50 57.75,272.25 58.25,272.25 58.25,274.00 58.75,274.00 58.75,275.75 59.25,275.75 59.25,277.50 59.50,277.50 61.05,277.50 61.05,279.50 62.60,279.50 62.96,279.50 62.96,281.25 63.69,281.25 63.69,283.00 64.41,283.00 64.41,284.75 65.14,284.75 65.14,286.50 65.50,286.50 66.20,286.50 66.20,288.50 67.60,288.50 67.60,290.50 68.30,290.50 68.59,290.50 68.59,292.20 69.17,292.20 69.17,293.90 69.75,293.90 69.75,295.60 70.33,295.60 70.33,297.30 70.91,297.30 70.91,299.00 71.20,299.00 71.49,299.00 71.49,300.50 72.06,300.50 72.06,302.00 72.64,302.00 72.64,303.50 73.21,303.50 73.21,305.00 73.50,305.00 73.69,305.00 73.69,306.62 74.07,306.62 74.07,308.24 74.45,308.24 74.45,309.86 74.83,309.86 74.83,311.48 75.21,311.48 75.21,313.10 75.40,313.10 81.15,313.10 81.15,315.60 86.90,315.60 87.38,315.60 87.38,317.50 88.33,317.50 88.33,319.40 88.80,319.40 117.70,320.00 118.65,320.00 118.65,321.30 119.60,321.30 127.30,321.90 128.25,321.90 128.25,323.30 129.20,323.30 140.80,323.80 141.75,323.80 141.75,325.20 142.70,325.20 150.40,325.80 176.40,326.10 176.68,326.10 176.68,327.40 177.22,327.40 177.22,328.70 177.50,328.70 197.60,329.10 198.15,329.10 198.15,331.40 198.70,331.40 207.10,331.80 207.38,331.80 207.38,333.20 207.92,333.20 207.92,334.60 208.20,334.60 236.70,334.60" fill="none" stroke="#6cacE2" stroke-width="1.35" stroke-linejoin="miter" stroke-linecap="butt"/>
<text transform="translate(267.50,250.70)" font-size="12" font-weight="bold" fill="#000">D</text>
<text transform="translate(509.60,263.80) scale(0.965,1)" font-size="8" text-anchor="end" fill="#231f20">log-rank <tspan font-style="italic">P</tspan>&lt;.001</text>
<line x1="310.50" y1="257.10" x2="310.50" y2="387.30" stroke="#000" stroke-width="1.0"/>
<line x1="310.00" y1="386.80" x2="512.80" y2="386.80" stroke="#000" stroke-width="1.0"/>
<line x1="307.00" y1="382.30" x2="310.50" y2="382.30" stroke="#222" stroke-width="0.9"/>
<text transform="translate(304.60,385.20) scale(0.98,1)" font-size="8" text-anchor="end" fill="#231f20">0.0</text>
<line x1="307.00" y1="370.22" x2="310.50" y2="370.22" stroke="#222" stroke-width="0.9"/>
<text transform="translate(304.60,373.12) scale(0.98,1)" font-size="8" text-anchor="end" fill="#231f20">0.1</text>
<line x1="307.00" y1="358.14" x2="310.50" y2="358.14" stroke="#222" stroke-width="0.9"/>
<text transform="translate(304.60,361.04) scale(0.98,1)" font-size="8" text-anchor="end" fill="#231f20">0.2</text>
<line x1="307.00" y1="346.06" x2="310.50" y2="346.06" stroke="#222" stroke-width="0.9"/>
<text transform="translate(304.60,348.96) scale(0.98,1)" font-size="8" text-anchor="end" fill="#231f20">0.3</text>
<line x1="307.00" y1="333.98" x2="310.50" y2="333.98" stroke="#222" stroke-width="0.9"/>
<text transform="translate(304.60,336.88) scale(0.98,1)" font-size="8" text-anchor="end" fill="#231f20">0.4</text>
<line x1="307.00" y1="321.90" x2="310.50" y2="321.90" stroke="#222" stroke-width="0.9"/>
<text transform="translate(304.60,324.80) scale(0.98,1)" font-size="8" text-anchor="end" fill="#231f20">0.5</text>
<line x1="307.00" y1="309.82" x2="310.50" y2="309.82" stroke="#222" stroke-width="0.9"/>
<text transform="translate(304.60,312.72) scale(0.98,1)" font-size="8" text-anchor="end" fill="#231f20">0.6</text>
<line x1="307.00" y1="297.74" x2="310.50" y2="297.74" stroke="#222" stroke-width="0.9"/>
<text transform="translate(304.60,300.64) scale(0.98,1)" font-size="8" text-anchor="end" fill="#231f20">0.7</text>
<line x1="307.00" y1="285.66" x2="310.50" y2="285.66" stroke="#222" stroke-width="0.9"/>
<text transform="translate(304.60,288.56) scale(0.98,1)" font-size="8" text-anchor="end" fill="#231f20">0.8</text>
<line x1="307.00" y1="273.58" x2="310.50" y2="273.58" stroke="#222" stroke-width="0.9"/>
<text transform="translate(304.60,276.48) scale(0.98,1)" font-size="8" text-anchor="end" fill="#231f20">0.9</text>
<line x1="307.00" y1="261.50" x2="310.50" y2="261.50" stroke="#222" stroke-width="0.9"/>
<text transform="translate(304.60,264.40) scale(0.98,1)" font-size="8" text-anchor="end" fill="#231f20">1.0</text>
<line x1="315.00" y1="386.80" x2="315.00" y2="390.40" stroke="#333" stroke-width="0.9"/>
<text transform="translate(315.00,399.80) scale(0.98,1)" font-size="8" text-anchor="middle" fill="#231f20">0</text>
<line x1="324.37" y1="386.80" x2="324.37" y2="388.60" stroke="#333" stroke-width="0.9"/>
<line x1="333.73" y1="386.80" x2="333.73" y2="388.60" stroke="#333" stroke-width="0.9"/>
<line x1="343.10" y1="386.80" x2="343.10" y2="388.60" stroke="#333" stroke-width="0.9"/>
<line x1="352.46" y1="386.80" x2="352.46" y2="390.40" stroke="#333" stroke-width="0.9"/>
<text transform="translate(352.46,399.80) scale(0.98,1)" font-size="8" text-anchor="middle" fill="#231f20">12</text>
<line x1="361.83" y1="386.80" x2="361.83" y2="388.60" stroke="#333" stroke-width="0.9"/>
<line x1="371.19" y1="386.80" x2="371.19" y2="388.60" stroke="#333" stroke-width="0.9"/>
<line x1="380.56" y1="386.80" x2="380.56" y2="388.60" stroke="#333" stroke-width="0.9"/>
<line x1="389.92" y1="386.80" x2="389.92" y2="390.40" stroke="#333" stroke-width="0.9"/>
<text transform="translate(389.92,399.80) scale(0.98,1)" font-size="8" text-anchor="middle" fill="#231f20">24</text>
<line x1="399.29" y1="386.80" x2="399.29" y2="388.60" stroke="#333" stroke-width="0.9"/>
<line x1="408.65" y1="386.80" x2="408.65" y2="388.60" stroke="#333" stroke-width="0.9"/>
<line x1="418.02" y1="386.80" x2="418.02" y2="388.60" stroke="#333" stroke-width="0.9"/>
<line x1="427.38" y1="386.80" x2="427.38" y2="390.40" stroke="#333" stroke-width="0.9"/>
<text transform="translate(427.38,399.80) scale(0.98,1)" font-size="8" text-anchor="middle" fill="#231f20">36</text>
<line x1="436.75" y1="386.80" x2="436.75" y2="388.60" stroke="#333" stroke-width="0.9"/>
<line x1="446.11" y1="386.80" x2="446.11" y2="388.60" stroke="#333" stroke-width="0.9"/>
<line x1="455.48" y1="386.80" x2="455.48" y2="388.60" stroke="#333" stroke-width="0.9"/>
<line x1="464.84" y1="386.80" x2="464.84" y2="390.40" stroke="#333" stroke-width="0.9"/>
<text transform="translate(464.84,399.80) scale(0.98,1)" font-size="8" text-anchor="middle" fill="#231f20">48</text>
<line x1="474.21" y1="386.80" x2="474.21" y2="388.60" stroke="#333" stroke-width="0.9"/>
<line x1="483.57" y1="386.80" x2="483.57" y2="388.60" stroke="#333" stroke-width="0.9"/>
<line x1="492.94" y1="386.80" x2="492.94" y2="388.60" stroke="#333" stroke-width="0.9"/>
<line x1="502.30" y1="386.80" x2="502.30" y2="390.40" stroke="#333" stroke-width="0.9"/>
<text transform="translate(502.30,399.80) scale(0.98,1)" font-size="8" text-anchor="middle" fill="#231f20">60</text>
<text transform="translate(411.00,413.60) scale(0.8,1)" font-size="9.5" text-anchor="middle" fill="#231f20" class="at">Months since diagnosis</text>
<text transform="translate(287.30,321.90) rotate(-90) scale(0.80,1)" font-size="9.5" text-anchor="middle" fill="#231f20" class="yt">Overall survival</text>
<text transform="translate(379.30,336.10) scale(0.97,1)" font-size="7.5" fill="#231f20">OS at 3 years</text>
<line x1="316.00" y1="345.00" x2="326.80" y2="345.00" stroke="#1f3e7c" stroke-width="1.4"/>
<text x="331.00" y="347.70" font-size="7.5" fill="#231f20" textLength="21.20" lengthAdjust="spacingAndGlyphs">≤ ULN</text>
<text transform="translate(379.30,347.70) scale(0.97,1)" font-size="7.5" fill="#231f20">81%</text>
<text transform="translate(398.50,347.70) scale(0.97,1)" font-size="7.5" fill="#231f20">(73-87)</text>
<line x1="316.00" y1="353.08" x2="326.80" y2="353.08" stroke="#e08a12" stroke-width="1.4"/>
<text x="331.00" y="355.78" font-size="7.5" fill="#231f20" textLength="37.20" lengthAdjust="spacingAndGlyphs">&gt;1-3x ULN</text>
<text transform="translate(379.30,355.78) scale(0.97,1)" font-size="7.5" fill="#231f20">78%</text>
<text transform="translate(398.50,355.78) scale(0.97,1)" font-size="7.5" fill="#231f20">(72-83)</text>
<line x1="316.00" y1="361.16" x2="326.80" y2="361.16" stroke="#a80a30" stroke-width="1.4"/>
<text x="331.00" y="363.86" font-size="7.5" fill="#231f20" textLength="37.20" lengthAdjust="spacingAndGlyphs">&gt;3-5x ULN</text>
<text transform="translate(379.30,363.86) scale(0.97,1)" font-size="7.5" fill="#231f20">67%</text>
<text transform="translate(398.50,363.86) scale(0.97,1)" font-size="7.5" fill="#231f20">(55-77)</text>
<line x1="316.00" y1="369.24" x2="326.80" y2="369.24" stroke="#64a845" stroke-width="1.4"/>
<text x="331.00" y="371.94" font-size="7.5" fill="#231f20" textLength="41.35" lengthAdjust="spacingAndGlyphs">&gt;5-10x ULN</text>
<text transform="translate(379.30,371.94) scale(0.97,1)" font-size="7.5" fill="#231f20">58%</text>
<text transform="translate(398.50,371.94) scale(0.97,1)" font-size="7.5" fill="#231f20">(46-68)</text>
<line x1="316.00" y1="377.32" x2="326.80" y2="377.32" stroke="#6cacE2" stroke-width="1.4"/>
<text x="331.00" y="380.02" font-size="7.5" fill="#231f20" textLength="34.60" lengthAdjust="spacingAndGlyphs">&gt;10x ULN</text>
<text transform="translate(379.30,380.02) scale(0.97,1)" font-size="7.5" fill="#231f20">49%</text>
<text transform="translate(398.50,380.02) scale(0.97,1)" font-size="7.5" fill="#231f20">(38-60)</text>
<text transform="translate(302.10,419.30)" font-size="7.5" font-style="italic" fill="#231f20">N</text>
<rect x="302.90" y="423.60" width="4.1" height="4" fill="#1f3d80"/>
<text transform="translate(315.00,428.15) scale(0.95,1)" font-size="7.8" text-anchor="middle" fill="#231f20">135</text>
<text transform="translate(352.46,428.15) scale(0.95,1)" font-size="7.8" text-anchor="middle" fill="#231f20">106</text>
<text transform="translate(389.92,428.15) scale(0.95,1)" font-size="7.8" text-anchor="middle" fill="#231f20">87</text>
<text transform="translate(427.38,428.15) scale(0.95,1)" font-size="7.8" text-anchor="middle" fill="#231f20">64</text>
<text transform="translate(464.84,428.15) scale(0.95,1)" font-size="7.8" text-anchor="middle" fill="#231f20">47</text>
<text transform="translate(502.30,428.15) scale(0.95,1)" font-size="7.8" text-anchor="middle" fill="#231f20">30</text>
<rect x="302.90" y="430.93" width="4.1" height="4" fill="#e38a0c"/>
<text transform="translate(315.00,435.48) scale(0.95,1)" font-size="7.8" text-anchor="middle" fill="#231f20">216</text>
<text transform="translate(352.46,435.48) scale(0.95,1)" font-size="7.8" text-anchor="middle" fill="#231f20">163</text>
<text transform="translate(389.92,435.48) scale(0.95,1)" font-size="7.8" text-anchor="middle" fill="#231f20">130</text>
<text transform="translate(427.38,435.48) scale(0.95,1)" font-size="7.8" text-anchor="middle" fill="#231f20">97</text>
<text transform="translate(464.84,435.48) scale(0.95,1)" font-size="7.8" text-anchor="middle" fill="#231f20">75</text>
<text transform="translate(502.30,435.48) scale(0.95,1)" font-size="7.8" text-anchor="middle" fill="#231f20">51</text>
<rect x="302.90" y="438.26" width="4.1" height="4" fill="#a8002a"/>
<text transform="translate(315.00,442.81) scale(0.95,1)" font-size="7.8" text-anchor="middle" fill="#231f20">77</text>
<text transform="translate(352.46,442.81) scale(0.95,1)" font-size="7.8" text-anchor="middle" fill="#231f20">49</text>
<text transform="translate(389.92,442.81) scale(0.95,1)" font-size="7.8" text-anchor="middle" fill="#231f20">40</text>
<text transform="translate(427.38,442.81) scale(0.95,1)" font-size="7.8" text-anchor="middle" fill="#231f20">33</text>
<text transform="translate(464.84,442.81) scale(0.95,1)" font-size="7.8" text-anchor="middle" fill="#231f20">25</text>
<text transform="translate(502.30,442.81) scale(0.95,1)" font-size="7.8" text-anchor="middle" fill="#231f20">16</text>
<rect x="302.90" y="445.59" width="4.1" height="4" fill="#55a032"/>
<text transform="translate(315.00,450.14) scale(0.95,1)" font-size="7.8" text-anchor="middle" fill="#231f20">80</text>
<text transform="translate(352.46,450.14) scale(0.95,1)" font-size="7.8" text-anchor="middle" fill="#231f20">44</text>
<text transform="translate(389.92,450.14) scale(0.95,1)" font-size="7.8" text-anchor="middle" fill="#231f20">35</text>
<text transform="translate(427.38,450.14) scale(0.95,1)" font-size="7.8" text-anchor="middle" fill="#231f20">30</text>
<text transform="translate(464.84,450.14) scale(0.95,1)" font-size="7.8" text-anchor="middle" fill="#231f20">24</text>
<text transform="translate(502.30,450.14) scale(0.95,1)" font-size="7.8" text-anchor="middle" fill="#231f20">18</text>
<rect x="302.90" y="452.92" width="4.1" height="4" fill="#5aa2e4"/>
<text transform="translate(315.00,457.47) scale(0.95,1)" font-size="7.8" text-anchor="middle" fill="#231f20">90</text>
<text transform="translate(352.46,457.47) scale(0.95,1)" font-size="7.8" text-anchor="middle" fill="#231f20">49</text>
<text transform="translate(389.92,457.47) scale(0.95,1)" font-size="7.8" text-anchor="middle" fill="#231f20">35</text>
<text transform="translate(427.38,457.47) scale(0.95,1)" font-size="7.8" text-anchor="middle" fill="#231f20">26</text>
<text transform="translate(464.84,457.47) scale(0.95,1)" font-size="7.8" text-anchor="middle" fill="#231f20">18</text>
<text transform="translate(502.30,457.47) scale(0.95,1)" font-size="7.8" text-anchor="middle" fill="#231f20">14</text>
<polyline points="315.40,261.50 319.20,261.50 320.40,261.50 320.40,263.70 321.60,263.70 325.50,264.70 327.90,264.70 327.90,266.60 330.30,266.60 335.10,267.60 338.90,268.10 339.38,268.10 339.38,269.75 340.32,269.75 340.32,271.40 340.80,271.40 341.80,271.40 341.80,273.30 342.80,273.30 344.70,273.30 344.70,274.80 346.60,274.80 348.05,274.80 348.05,277.20 349.50,277.20 354.30,277.70 356.55,277.70 356.55,279.20 358.80,279.20 385.80,280.00 386.75,280.00 386.75,281.50 387.70,281.50 401.20,281.90 402.60,281.90 402.60,283.70 404.00,283.70 442.80,283.70 443.70,285.50 457.50,285.50 458.40,287.70 469.30,287.70 469.70,289.50 506.80,289.50" fill="none" stroke="#1f3e7c" stroke-width="1.35" stroke-linejoin="miter" stroke-linecap="butt"/>
<polyline points="315.40,261.50 317.05,261.50 317.05,262.80 318.70,262.80 319.07,262.80 319.07,264.45 319.82,264.45 319.82,266.10 320.20,266.10 323.50,267.10 324.95,267.10 324.95,269.50 326.40,269.50 327.85,269.50 327.85,271.40 329.30,271.40 330.50,271.40 330.50,272.85 332.90,272.85 332.90,274.30 334.10,274.30 336.05,274.30 336.05,275.50 338.00,275.50 339.40,275.50 339.40,276.70 340.80,276.70 342.25,276.70 342.25,278.20 343.70,278.20 345.65,278.20 345.65,280.10 347.60,280.10 349.50,280.10 349.50,282.00 351.40,282.00 354.15,282.00 354.15,283.80 356.90,283.80 363.65,283.80 363.65,285.40 370.40,285.40 375.20,285.40 375.20,286.90 380.00,286.90 391.50,287.30 441.90,287.70 442.80,288.60 451.00,288.60 452.00,290.10 467.50,290.10 468.40,291.00 473.30,291.00 473.90,293.40 507.70,293.40 508.60,295.00" fill="none" stroke="#e08a12" stroke-width="1.35" stroke-linejoin="miter" stroke-linecap="butt"/>
<polyline points="315.40,261.50 315.81,261.50 315.81,263.25 316.64,263.25 316.64,265.00 317.46,265.00 317.46,266.75 318.29,266.75 318.29,268.50 318.70,268.50 319.18,268.50 319.18,270.10 320.15,270.10 320.15,271.70 321.12,271.70 321.12,273.30 321.60,273.30 327.40,273.80 328.12,273.80 328.12,275.50 329.57,275.50 329.57,277.20 330.30,277.20 331.75,277.20 331.75,279.10 333.20,279.10 333.75,279.10 333.75,280.87 334.85,280.87 334.85,282.63 335.95,282.63 335.95,284.40 336.50,284.40 341.80,284.90 342.27,284.90 342.27,286.80 343.23,286.80 343.23,288.70 343.70,288.70 344.70,288.70 344.70,290.20 345.70,290.20 348.50,291.10 348.93,291.10 348.93,293.05 349.77,293.05 349.77,295.00 350.20,295.00 365.60,295.00 366.50,296.90 379.00,296.90 380.00,299.20 410.80,299.20 411.70,301.50 473.90,301.50 474.40,304.70 494.50,304.70 494.50,308.90" fill="none" stroke="#a80a30" stroke-width="1.35" stroke-linejoin="miter" stroke-linecap="butt"/>
<polyline points="315.40,261.50 315.63,261.50 315.63,263.15 316.10,263.15 316.10,264.80 316.57,264.80 316.57,266.45 317.03,266.45 317.03,268.10 317.50,268.10 317.50,269.75 317.97,269.75 317.97,271.40 318.20,271.40 318.53,271.40 318.53,272.87 319.20,272.87 319.20,274.33 319.87,274.33 319.87,275.80 320.20,275.80 321.40,275.80 321.40,277.20 322.60,277.20 323.08,277.20 323.08,278.80 324.05,278.80 324.05,280.40 325.02,280.40 325.02,282.00 325.50,282.00 326.70,282.00 326.70,283.90 329.10,283.90 329.10,285.80 330.30,285.80 331.25,285.80 331.25,287.50 333.15,287.50 333.15,289.20 334.10,289.20 334.58,289.20 334.58,290.63 335.55,290.63 335.55,292.07 336.52,292.07 336.52,293.50 337.00,293.50 337.95,293.50 337.95,295.45 339.85,295.45 339.85,297.40 340.80,297.40 341.13,297.40 341.13,299.00 341.80,299.00 341.80,300.60 342.47,300.60 342.47,302.20 342.80,302.20 343.50,305.60 344.70,305.60 344.70,307.05 347.10,307.05 347.10,308.50 348.30,308.50 358.80,309.40 359.30,309.40 359.30,310.80 360.30,310.80 360.30,312.20 360.80,312.20 442.80,312.40 443.70,314.80 473.00,314.80 473.50,317.50 478.50,317.50 479.40,320.20 503.10,320.20 504.00,324.40" fill="none" stroke="#64a845" stroke-width="1.35" stroke-linejoin="miter" stroke-linecap="butt"/>
<polyline points="315.40,261.50 315.64,261.50 315.64,263.10 316.12,263.10 316.12,264.70 316.60,264.70 316.60,266.30 317.08,266.30 317.08,267.90 317.56,267.90 317.56,269.50 317.80,269.50 318.04,269.50 318.04,271.30 318.51,271.30 318.51,273.10 318.99,273.10 318.99,274.90 319.46,274.90 319.46,276.70 319.70,276.70 322.60,277.70 323.20,277.70 323.20,279.50 324.40,279.50 324.40,281.30 325.60,281.30 325.60,283.10 326.80,283.10 326.80,284.90 327.40,284.90 328.35,284.90 328.35,286.35 330.25,286.35 330.25,287.80 331.20,287.80 331.85,287.80 331.85,289.70 333.15,289.70 333.15,291.60 334.45,291.60 334.45,293.50 335.10,293.50 335.58,293.50 335.58,295.43 336.55,295.43 336.55,297.37 337.52,297.37 337.52,299.30 338.00,299.30 338.70,299.30 338.70,301.25 340.10,301.25 340.10,303.20 340.80,303.20 342.25,303.20 342.25,305.60 343.70,305.60 344.55,305.60 344.55,307.50 345.40,307.50 346.85,307.50 346.85,310.00 348.30,310.00 352.15,310.00 352.15,311.30 356.00,311.30 356.90,312.70 381.00,312.70 381.95,312.70 381.95,314.60 382.90,314.60 388.70,315.20 389.90,315.20 389.90,316.65 392.30,316.65 392.30,318.10 393.50,318.10 402.10,319.00 403.10,321.00 409.80,321.00 410.80,322.90 436.40,323.00 437.40,325.20 496.70,325.20" fill="none" stroke="#6cacE2" stroke-width="1.35" stroke-linejoin="miter" stroke-linecap="butt"/>
<text transform="translate(6.90,484.70)" font-size="12" font-weight="bold" fill="#000">E</text>
<text transform="translate(249.60,497.80) scale(0.965,1)" font-size="8" text-anchor="end" fill="#231f20">log-rank <tspan font-style="italic">P</tspan>=0.52</text>
<line x1="50.50" y1="490.90" x2="50.50" y2="635.60" stroke="#000" stroke-width="1.0"/>
<line x1="50.00" y1="635.10" x2="252.80" y2="635.10" stroke="#000" stroke-width="1.0"/>
<line x1="47.00" y1="630.60" x2="50.50" y2="630.60" stroke="#222" stroke-width="0.9"/>
<text transform="translate(44.60,633.50) scale(0.98,1)" font-size="8" text-anchor="end" fill="#231f20">0.0</text>
<line x1="47.00" y1="617.07" x2="50.50" y2="617.07" stroke="#222" stroke-width="0.9"/>
<text transform="translate(44.60,619.97) scale(0.98,1)" font-size="8" text-anchor="end" fill="#231f20">0.1</text>
<line x1="47.00" y1="603.54" x2="50.50" y2="603.54" stroke="#222" stroke-width="0.9"/>
<text transform="translate(44.60,606.44) scale(0.98,1)" font-size="8" text-anchor="end" fill="#231f20">0.2</text>
<line x1="47.00" y1="590.01" x2="50.50" y2="590.01" stroke="#222" stroke-width="0.9"/>
<text transform="translate(44.60,592.91) scale(0.98,1)" font-size="8" text-anchor="end" fill="#231f20">0.3</text>
<line x1="47.00" y1="576.48" x2="50.50" y2="576.48" stroke="#222" stroke-width="0.9"/>
<text transform="translate(44.60,579.38) scale(0.98,1)" font-size="8" text-anchor="end" fill="#231f20">0.4</text>
<line x1="47.00" y1="562.95" x2="50.50" y2="562.95" stroke="#222" stroke-width="0.9"/>
<text transform="translate(44.60,565.85) scale(0.98,1)" font-size="8" text-anchor="end" fill="#231f20">0.5</text>
<line x1="47.00" y1="549.42" x2="50.50" y2="549.42" stroke="#222" stroke-width="0.9"/>
<text transform="translate(44.60,552.32) scale(0.98,1)" font-size="8" text-anchor="end" fill="#231f20">0.6</text>
<line x1="47.00" y1="535.89" x2="50.50" y2="535.89" stroke="#222" stroke-width="0.9"/>
<text transform="translate(44.60,538.79) scale(0.98,1)" font-size="8" text-anchor="end" fill="#231f20">0.7</text>
<line x1="47.00" y1="522.36" x2="50.50" y2="522.36" stroke="#222" stroke-width="0.9"/>
<text transform="translate(44.60,525.26) scale(0.98,1)" font-size="8" text-anchor="end" fill="#231f20">0.8</text>
<line x1="47.00" y1="508.83" x2="50.50" y2="508.83" stroke="#222" stroke-width="0.9"/>
<text transform="translate(44.60,511.73) scale(0.98,1)" font-size="8" text-anchor="end" fill="#231f20">0.9</text>
<line x1="47.00" y1="495.30" x2="50.50" y2="495.30" stroke="#222" stroke-width="0.9"/>
<text transform="translate(44.60,498.20) scale(0.98,1)" font-size="8" text-anchor="end" fill="#231f20">1.0</text>
<line x1="55.00" y1="635.10" x2="55.00" y2="638.70" stroke="#333" stroke-width="0.9"/>
<text transform="translate(55.00,648.10) scale(0.98,1)" font-size="8" text-anchor="middle" fill="#231f20">0</text>
<line x1="64.37" y1="635.10" x2="64.37" y2="636.90" stroke="#333" stroke-width="0.9"/>
<line x1="73.73" y1="635.10" x2="73.73" y2="636.90" stroke="#333" stroke-width="0.9"/>
<line x1="83.10" y1="635.10" x2="83.10" y2="636.90" stroke="#333" stroke-width="0.9"/>
<line x1="92.46" y1="635.10" x2="92.46" y2="638.70" stroke="#333" stroke-width="0.9"/>
<text transform="translate(92.46,648.10) scale(0.98,1)" font-size="8" text-anchor="middle" fill="#231f20">12</text>
<line x1="101.83" y1="635.10" x2="101.83" y2="636.90" stroke="#333" stroke-width="0.9"/>
<line x1="111.19" y1="635.10" x2="111.19" y2="636.90" stroke="#333" stroke-width="0.9"/>
<line x1="120.56" y1="635.10" x2="120.56" y2="636.90" stroke="#333" stroke-width="0.9"/>
<line x1="129.92" y1="635.10" x2="129.92" y2="638.70" stroke="#333" stroke-width="0.9"/>
<text transform="translate(129.92,648.10) scale(0.98,1)" font-size="8" text-anchor="middle" fill="#231f20">24</text>
<line x1="139.29" y1="635.10" x2="139.29" y2="636.90" stroke="#333" stroke-width="0.9"/>
<line x1="148.65" y1="635.10" x2="148.65" y2="636.90" stroke="#333" stroke-width="0.9"/>
<line x1="158.02" y1="635.10" x2="158.02" y2="636.90" stroke="#333" stroke-width="0.9"/>
<line x1="167.38" y1="635.10" x2="167.38" y2="638.70" stroke="#333" stroke-width="0.9"/>
<text transform="translate(167.38,648.10) scale(0.98,1)" font-size="8" text-anchor="middle" fill="#231f20">36</text>
<line x1="176.75" y1="635.10" x2="176.75" y2="636.90" stroke="#333" stroke-width="0.9"/>
<line x1="186.11" y1="635.10" x2="186.11" y2="636.90" stroke="#333" stroke-width="0.9"/>
<line x1="195.48" y1="635.10" x2="195.48" y2="636.90" stroke="#333" stroke-width="0.9"/>
<line x1="204.84" y1="635.10" x2="204.84" y2="638.70" stroke="#333" stroke-width="0.9"/>
<text transform="translate(204.84,648.10) scale(0.98,1)" font-size="8" text-anchor="middle" fill="#231f20">48</text>
<line x1="214.21" y1="635.10" x2="214.21" y2="636.90" stroke="#333" stroke-width="0.9"/>
<line x1="223.57" y1="635.10" x2="223.57" y2="636.90" stroke="#333" stroke-width="0.9"/>
<line x1="232.94" y1="635.10" x2="232.94" y2="636.90" stroke="#333" stroke-width="0.9"/>
<line x1="242.30" y1="635.10" x2="242.30" y2="638.70" stroke="#333" stroke-width="0.9"/>
<text transform="translate(242.30,648.10) scale(0.98,1)" font-size="8" text-anchor="middle" fill="#231f20">60</text>
<text transform="translate(151.00,661.90) scale(0.8,1)" font-size="9.5" text-anchor="middle" fill="#231f20" class="at">Months since diagnosis</text>
<text transform="translate(27.30,562.95) rotate(-90) scale(0.80,1)" font-size="9.5" text-anchor="middle" fill="#231f20" class="yt">Progression-free survival</text>
<text transform="translate(123.30,592.90) scale(0.97,1)" font-size="7.5" fill="#231f20">PFS at 3 years</text>
<line x1="56.00" y1="601.80" x2="66.80" y2="601.80" stroke="#e08a12" stroke-width="1.4"/>
<text x="71.00" y="604.50" font-size="7.5" fill="#231f20" textLength="33.00" lengthAdjust="spacingAndGlyphs"><tspan font-style="italic">MYC-IGH</tspan></text>
<text transform="translate(123.30,604.50) scale(0.97,1)" font-size="7.5" fill="#231f20">64%</text>
<text transform="translate(142.50,604.50) scale(0.97,1)" font-size="7.5" fill="#231f20">(59-68)</text>
<line x1="56.00" y1="609.80" x2="66.80" y2="609.80" stroke="#6cacE2" stroke-width="1.4"/>
<text x="71.00" y="612.50" font-size="7.5" fill="#231f20" textLength="31.00" lengthAdjust="spacingAndGlyphs"><tspan font-style="italic">MYC-κ/λ</tspan></text>
<text transform="translate(123.30,612.50) scale(0.97,1)" font-size="7.5" fill="#231f20">54%</text>
<text transform="translate(142.50,612.50) scale(0.97,1)" font-size="7.5" fill="#231f20">(33-71)</text>
<line x1="56.00" y1="617.80" x2="66.80" y2="617.80" stroke="#a80a30" stroke-width="1.4"/>
<text x="71.00" y="620.50" font-size="7.5" fill="#231f20" textLength="45.30" lengthAdjust="spacingAndGlyphs"><tspan font-style="italic">MYC</tspan> BA only</text>
<text transform="translate(123.30,620.50) scale(0.97,1)" font-size="7.5" fill="#231f20">67%</text>
<text transform="translate(142.50,620.50) scale(0.97,1)" font-size="7.5" fill="#231f20">(58-74)</text>
<line x1="56.00" y1="625.80" x2="66.80" y2="625.80" stroke="#1f3e7c" stroke-width="1.4"/>
<text x="71.00" y="628.50" font-size="7.5" fill="#231f20" textLength="44.30" lengthAdjust="spacingAndGlyphs">No/unknown</text>
<text transform="translate(123.30,628.50) scale(0.97,1)" font-size="7.5" fill="#231f20">68%</text>
<text transform="translate(142.50,628.50) scale(0.97,1)" font-size="7.5" fill="#231f20">(55-78)</text>
<text transform="translate(42.10,667.45)" font-size="7.5" font-style="italic" fill="#231f20">N</text>
<rect x="42.90" y="671.75" width="4.1" height="4" fill="#1f3d80"/>
<text transform="translate(55.00,676.30) scale(0.95,1)" font-size="7.8" text-anchor="middle" fill="#231f20">65</text>
<text transform="translate(92.46,676.30) scale(0.95,1)" font-size="7.8" text-anchor="middle" fill="#231f20">42</text>
<text transform="translate(129.92,676.30) scale(0.95,1)" font-size="7.8" text-anchor="middle" fill="#231f20">34</text>
<text transform="translate(167.38,676.30) scale(0.95,1)" font-size="7.8" text-anchor="middle" fill="#231f20">28</text>
<text transform="translate(204.84,676.30) scale(0.95,1)" font-size="7.8" text-anchor="middle" fill="#231f20">24</text>
<text transform="translate(242.30,676.30) scale(0.95,1)" font-size="7.8" text-anchor="middle" fill="#231f20">15</text>
<rect x="42.90" y="679.08" width="4.1" height="4" fill="#e38a0c"/>
<text transform="translate(55.00,683.63) scale(0.95,1)" font-size="7.8" text-anchor="middle" fill="#231f20">406</text>
<text transform="translate(92.46,683.63) scale(0.95,1)" font-size="7.8" text-anchor="middle" fill="#231f20">251</text>
<text transform="translate(129.92,683.63) scale(0.95,1)" font-size="7.8" text-anchor="middle" fill="#231f20">204</text>
<text transform="translate(167.38,683.63) scale(0.95,1)" font-size="7.8" text-anchor="middle" fill="#231f20">158</text>
<text transform="translate(204.84,683.63) scale(0.95,1)" font-size="7.8" text-anchor="middle" fill="#231f20">115</text>
<text transform="translate(242.30,683.63) scale(0.95,1)" font-size="7.8" text-anchor="middle" fill="#231f20">73</text>
<rect x="42.90" y="686.41" width="4.1" height="4" fill="#5aa2e4"/>
<text transform="translate(55.00,690.96) scale(0.95,1)" font-size="7.8" text-anchor="middle" fill="#231f20">31</text>
<text transform="translate(92.46,690.96) scale(0.95,1)" font-size="7.8" text-anchor="middle" fill="#231f20">20</text>
<text transform="translate(129.92,690.96) scale(0.95,1)" font-size="7.8" text-anchor="middle" fill="#231f20">15</text>
<text transform="translate(167.38,690.96) scale(0.95,1)" font-size="7.8" text-anchor="middle" fill="#231f20">8</text>
<text transform="translate(204.84,690.96) scale(0.95,1)" font-size="7.8" text-anchor="middle" fill="#231f20">7</text>
<text transform="translate(242.30,690.96) scale(0.95,1)" font-size="7.8" text-anchor="middle" fill="#231f20">6</text>
<polyline points="55.50,495.30 55.92,495.30 55.92,496.85 56.77,496.85 56.77,498.40 57.62,498.40 57.62,499.95 58.48,499.95 58.48,501.50 58.90,501.50 59.67,501.50 59.67,503.43 61.20,503.43 61.20,505.37 62.73,505.37 62.73,507.30 63.50,507.30 63.94,507.30 63.94,509.03 64.81,509.03 64.81,510.75 65.69,510.75 65.69,512.48 66.56,512.48 66.56,514.20 67.00,514.20 67.44,514.20 67.44,515.95 68.31,515.95 68.31,517.70 69.19,517.70 69.19,519.45 70.06,519.45 70.06,521.20 70.50,521.20 70.92,521.20 70.92,522.93 71.78,522.93 71.78,524.65 72.62,524.65 72.62,526.38 73.48,526.38 73.48,528.10 73.90,528.10 75.05,528.10 75.05,530.10 77.35,530.10 77.35,532.10 78.50,532.10 80.25,532.10 80.25,533.85 83.75,533.85 83.75,535.60 85.50,535.60 88.95,535.60 88.95,537.30 92.40,537.30 96.45,537.30 96.45,538.50 100.50,538.50 103.35,538.50 103.35,539.60 106.20,539.60 113.30,539.60 113.30,541.50 120.40,541.50 128.10,541.50 128.10,542.80 135.80,542.80 151.20,543.50 166.50,544.30 174.20,545.10 180.20,545.10 180.20,546.20 186.20,546.20 188.85,546.20 188.85,547.40 191.50,547.40 198.50,548.00 206.90,548.50 208.85,548.50 208.85,550.80 210.80,550.80 212.30,550.80 212.30,552.30 213.80,552.30 220.00,552.80 223.10,553.80 247.70,554.20" fill="none" stroke="#e08a12" stroke-width="1.35" stroke-linejoin="miter" stroke-linecap="butt"/>
<polyline points="55.50,495.30 55.71,495.30 55.71,497.09 56.14,497.09 56.14,498.88 56.56,498.88 56.56,500.66 56.99,500.66 56.99,502.45 57.41,502.45 57.41,504.24 57.84,504.24 57.84,506.03 58.26,506.03 58.26,507.81 58.69,507.81 58.69,509.60 58.90,509.60 59.12,509.60 59.12,511.33 59.58,511.33 59.58,513.05 60.02,513.05 60.02,514.77 60.48,514.77 60.48,516.50 60.70,516.50 64.70,516.50 64.88,516.50 64.88,518.07 65.25,518.07 65.25,519.63 65.62,519.63 65.62,521.20 65.80,521.20 66.27,521.20 66.27,523.04 67.21,523.04 67.21,524.88 68.15,524.88 68.15,526.72 69.09,526.72 69.09,528.56 70.03,528.56 70.03,530.40 70.50,530.40 71.50,530.40 71.50,532.10 73.50,532.10 73.50,533.80 74.50,533.80 79.70,533.80 80.30,539.00 106.20,539.00 106.20,544.20 128.80,544.20 128.80,549.20 150.70,549.20 150.70,557.40 207.40,557.40 207.40,567.70" fill="none" stroke="#6cacE2" stroke-width="1.35" stroke-linejoin="miter" stroke-linecap="butt"/>
<polyline points="55.50,495.30 56.08,495.30 56.08,496.82 57.23,496.82 57.23,498.35 58.38,498.35 58.38,499.88 59.52,499.88 59.52,501.40 60.10,501.40 65.70,501.40 65.86,501.40 65.86,503.17 66.19,503.17 66.19,504.95 66.51,504.95 66.51,506.73 66.84,506.73 66.84,508.50 67.00,508.50 68.15,508.50 68.15,510.80 69.30,510.80 69.50,510.80 69.50,512.70 69.90,512.70 69.90,514.60 70.30,514.60 70.30,516.50 70.50,516.50 70.69,516.50 70.69,518.23 71.08,518.23 71.08,519.97 71.46,519.97 71.46,521.70 71.84,521.70 71.84,523.43 72.22,523.43 72.22,525.17 72.61,525.17 72.61,526.90 72.80,526.90 79.70,526.90 80.30,529.20 83.20,529.80 83.70,533.30 85.15,533.30 85.15,534.40 86.60,534.40 91.20,534.40 91.20,535.60 95.80,535.60 97.00,535.60 97.00,537.30 98.20,537.30 112.00,537.90 219.20,538.20 219.20,542.30 244.60,542.30" fill="none" stroke="#1f3e7c" stroke-width="1.35" stroke-linejoin="miter" stroke-linecap="butt"/>
<polyline points="55.50,495.30 55.92,495.30 55.92,497.15 56.77,497.15 56.77,499.00 57.62,499.00 57.62,500.85 58.48,500.85 58.48,502.70 58.90,502.70 59.20,502.70 59.20,504.23 59.80,504.23 59.80,505.77 60.40,505.77 60.40,507.30 60.70,507.30 61.40,507.30 61.40,509.05 62.80,509.05 62.80,510.80 63.50,510.80 63.88,510.80 63.88,512.70 64.65,512.70 64.65,514.60 65.42,514.60 65.42,516.50 65.80,516.50 66.00,516.50 66.00,518.07 66.40,518.07 66.40,519.63 66.80,519.63 66.80,521.20 67.00,521.20 67.88,521.20 67.88,522.90 69.62,522.90 69.62,524.60 70.50,524.60 70.88,524.60 70.88,526.13 71.65,526.13 71.65,527.67 72.42,527.67 72.42,529.20 72.80,529.20 73.38,529.20 73.38,530.95 74.52,530.95 74.52,532.70 75.10,532.70 80.80,533.30 83.70,533.30 83.70,535.60 86.60,535.60 90.05,535.60 90.05,536.70 93.50,536.70 95.85,536.70 95.85,537.90 98.20,537.90 112.00,538.50 156.50,538.80 156.50,540.00 182.70,540.00 183.10,542.00 204.60,542.00 205.40,543.80 207.70,543.80 207.70,546.50 215.40,546.50 216.20,548.90 246.90,548.90" fill="none" stroke="#a80a30" stroke-width="1.35" stroke-linejoin="miter" stroke-linecap="butt"/>
<text transform="translate(268.60,484.70)" font-size="12" font-weight="bold" fill="#000">F</text>
<text transform="translate(509.60,497.80) scale(0.965,1)" font-size="8" text-anchor="end" fill="#231f20">log-rank <tspan font-style="italic">P</tspan>=0.46</text>
<line x1="310.50" y1="490.90" x2="310.50" y2="635.60" stroke="#000" stroke-width="1.0"/>
<line x1="310.00" y1="635.10" x2="512.80" y2="635.10" stroke="#000" stroke-width="1.0"/>
<line x1="307.00" y1="630.60" x2="310.50" y2="630.60" stroke="#222" stroke-width="0.9"/>
<text transform="translate(304.60,633.50) scale(0.98,1)" font-size="8" text-anchor="end" fill="#231f20">0.0</text>
<line x1="307.00" y1="617.07" x2="310.50" y2="617.07" stroke="#222" stroke-width="0.9"/>
<text transform="translate(304.60,619.97) scale(0.98,1)" font-size="8" text-anchor="end" fill="#231f20">0.1</text>
<line x1="307.00" y1="603.54" x2="310.50" y2="603.54" stroke="#222" stroke-width="0.9"/>
<text transform="translate(304.60,606.44) scale(0.98,1)" font-size="8" text-anchor="end" fill="#231f20">0.2</text>
<line x1="307.00" y1="590.01" x2="310.50" y2="590.01" stroke="#222" stroke-width="0.9"/>
<text transform="translate(304.60,592.91) scale(0.98,1)" font-size="8" text-anchor="end" fill="#231f20">0.3</text>
<line x1="307.00" y1="576.48" x2="310.50" y2="576.48" stroke="#222" stroke-width="0.9"/>
<text transform="translate(304.60,579.38) scale(0.98,1)" font-size="8" text-anchor="end" fill="#231f20">0.4</text>
<line x1="307.00" y1="562.95" x2="310.50" y2="562.95" stroke="#222" stroke-width="0.9"/>
<text transform="translate(304.60,565.85) scale(0.98,1)" font-size="8" text-anchor="end" fill="#231f20">0.5</text>
<line x1="307.00" y1="549.42" x2="310.50" y2="549.42" stroke="#222" stroke-width="0.9"/>
<text transform="translate(304.60,552.32) scale(0.98,1)" font-size="8" text-anchor="end" fill="#231f20">0.6</text>
<line x1="307.00" y1="535.89" x2="310.50" y2="535.89" stroke="#222" stroke-width="0.9"/>
<text transform="translate(304.60,538.79) scale(0.98,1)" font-size="8" text-anchor="end" fill="#231f20">0.7</text>
<line x1="307.00" y1="522.36" x2="310.50" y2="522.36" stroke="#222" stroke-width="0.9"/>
<text transform="translate(304.60,525.26) scale(0.98,1)" font-size="8" text-anchor="end" fill="#231f20">0.8</text>
<line x1="307.00" y1="508.83" x2="310.50" y2="508.83" stroke="#222" stroke-width="0.9"/>
<text transform="translate(304.60,511.73) scale(0.98,1)" font-size="8" text-anchor="end" fill="#231f20">0.9</text>
<line x1="307.00" y1="495.30" x2="310.50" y2="495.30" stroke="#222" stroke-width="0.9"/>
<text transform="translate(304.60,498.20) scale(0.98,1)" font-size="8" text-anchor="end" fill="#231f20">1.0</text>
<line x1="315.00" y1="635.10" x2="315.00" y2="638.70" stroke="#333" stroke-width="0.9"/>
<text transform="translate(315.00,648.10) scale(0.98,1)" font-size="8" text-anchor="middle" fill="#231f20">0</text>
<line x1="324.37" y1="635.10" x2="324.37" y2="636.90" stroke="#333" stroke-width="0.9"/>
<line x1="333.73" y1="635.10" x2="333.73" y2="636.90" stroke="#333" stroke-width="0.9"/>
<line x1="343.10" y1="635.10" x2="343.10" y2="636.90" stroke="#333" stroke-width="0.9"/>
<line x1="352.46" y1="635.10" x2="352.46" y2="638.70" stroke="#333" stroke-width="0.9"/>
<text transform="translate(352.46,648.10) scale(0.98,1)" font-size="8" text-anchor="middle" fill="#231f20">12</text>
<line x1="361.83" y1="635.10" x2="361.83" y2="636.90" stroke="#333" stroke-width="0.9"/>
<line x1="371.19" y1="635.10" x2="371.19" y2="636.90" stroke="#333" stroke-width="0.9"/>
<line x1="380.56" y1="635.10" x2="380.56" y2="636.90" stroke="#333" stroke-width="0.9"/>
<line x1="389.92" y1="635.10" x2="389.92" y2="638.70" stroke="#333" stroke-width="0.9"/>
<text transform="translate(389.92,648.10) scale(0.98,1)" font-size="8" text-anchor="middle" fill="#231f20">24</text>
<line x1="399.29" y1="635.10" x2="399.29" y2="636.90" stroke="#333" stroke-width="0.9"/>
<line x1="408.65" y1="635.10" x2="408.65" y2="636.90" stroke="#333" stroke-width="0.9"/>
<line x1="418.02" y1="635.10" x2="418.02" y2="636.90" stroke="#333" stroke-width="0.9"/>
<line x1="427.38" y1="635.10" x2="427.38" y2="638.70" stroke="#333" stroke-width="0.9"/>
<text transform="translate(427.38,648.10) scale(0.98,1)" font-size="8" text-anchor="middle" fill="#231f20">36</text>
<line x1="436.75" y1="635.10" x2="436.75" y2="636.90" stroke="#333" stroke-width="0.9"/>
<line x1="446.11" y1="635.10" x2="446.11" y2="636.90" stroke="#333" stroke-width="0.9"/>
<line x1="455.48" y1="635.10" x2="455.48" y2="636.90" stroke="#333" stroke-width="0.9"/>
<line x1="464.84" y1="635.10" x2="464.84" y2="638.70" stroke="#333" stroke-width="0.9"/>
<text transform="translate(464.84,648.10) scale(0.98,1)" font-size="8" text-anchor="middle" fill="#231f20">48</text>
<line x1="474.21" y1="635.10" x2="474.21" y2="636.90" stroke="#333" stroke-width="0.9"/>
<line x1="483.57" y1="635.10" x2="483.57" y2="636.90" stroke="#333" stroke-width="0.9"/>
<line x1="492.94" y1="635.10" x2="492.94" y2="636.90" stroke="#333" stroke-width="0.9"/>
<line x1="502.30" y1="635.10" x2="502.30" y2="638.70" stroke="#333" stroke-width="0.9"/>
<text transform="translate(502.30,648.10) scale(0.98,1)" font-size="8" text-anchor="middle" fill="#231f20">60</text>
<text transform="translate(411.00,661.90) scale(0.8,1)" font-size="9.5" text-anchor="middle" fill="#231f20" class="at">Months since diagnosis</text>
<text transform="translate(287.30,562.95) rotate(-90) scale(0.80,1)" font-size="9.5" text-anchor="middle" fill="#231f20" class="yt">Overall survival</text>
<text transform="translate(383.40,592.90) scale(0.97,1)" font-size="7.5" fill="#231f20">PFS at 3 years</text>
<line x1="316.00" y1="601.80" x2="326.80" y2="601.80" stroke="#e08a12" stroke-width="1.4"/>
<text x="331.00" y="604.50" font-size="7.5" fill="#231f20" textLength="33.00" lengthAdjust="spacingAndGlyphs"><tspan font-style="italic">MYC-IGH</tspan></text>
<text transform="translate(383.40,604.50) scale(0.97,1)" font-size="7.5" fill="#231f20">69%</text>
<text transform="translate(402.60,604.50) scale(0.97,1)" font-size="7.5" fill="#231f20">(64-74)</text>
<line x1="316.00" y1="609.80" x2="326.80" y2="609.80" stroke="#6cacE2" stroke-width="1.4"/>
<text x="331.00" y="612.50" font-size="7.5" fill="#231f20" textLength="31.00" lengthAdjust="spacingAndGlyphs"><tspan font-style="italic">MYC-κ/λ</tspan></text>
<text transform="translate(383.40,612.50) scale(0.97,1)" font-size="7.5" fill="#231f20">62%</text>
<text transform="translate(402.60,612.50) scale(0.97,1)" font-size="7.5" fill="#231f20">(42-77)</text>
<line x1="316.00" y1="617.80" x2="326.80" y2="617.80" stroke="#a80a30" stroke-width="1.4"/>
<text x="331.00" y="620.50" font-size="7.5" fill="#231f20" textLength="45.30" lengthAdjust="spacingAndGlyphs"><tspan font-style="italic">MYC</tspan> BA only</text>
<text transform="translate(383.40,620.50) scale(0.97,1)" font-size="7.5" fill="#231f20">71%</text>
<text transform="translate(402.60,620.50) scale(0.97,1)" font-size="7.5" fill="#231f20">(63-78)</text>
<line x1="316.00" y1="625.80" x2="326.80" y2="625.80" stroke="#1f3e7c" stroke-width="1.4"/>
<text x="331.00" y="628.50" font-size="7.5" fill="#231f20" textLength="44.30" lengthAdjust="spacingAndGlyphs">No/unknown</text>
<text transform="translate(383.40,628.50) scale(0.97,1)" font-size="7.5" fill="#231f20">70%</text>
<text transform="translate(402.60,628.50) scale(0.97,1)" font-size="7.5" fill="#231f20">(57-80)</text>
<text transform="translate(302.10,667.45)" font-size="7.5" font-style="italic" fill="#231f20">N</text>
<rect x="302.90" y="671.75" width="4.1" height="4" fill="#1f3d80"/>
<text transform="translate(315.00,676.30) scale(0.95,1)" font-size="7.8" text-anchor="middle" fill="#231f20">65</text>
<text transform="translate(352.46,676.30) scale(0.95,1)" font-size="7.8" text-anchor="middle" fill="#231f20">46</text>
<text transform="translate(389.92,676.30) scale(0.95,1)" font-size="7.8" text-anchor="middle" fill="#231f20">37</text>
<text transform="translate(427.38,676.30) scale(0.95,1)" font-size="7.8" text-anchor="middle" fill="#231f20">30</text>
<text transform="translate(464.84,676.30) scale(0.95,1)" font-size="7.8" text-anchor="middle" fill="#231f20">26</text>
<text transform="translate(502.30,676.30) scale(0.95,1)" font-size="7.8" text-anchor="middle" fill="#231f20">17</text>
<rect x="302.90" y="679.08" width="4.1" height="4" fill="#e38a0c"/>
<text transform="translate(315.00,683.63) scale(0.95,1)" font-size="7.8" text-anchor="middle" fill="#231f20">406</text>
<text transform="translate(352.46,683.63) scale(0.95,1)" font-size="7.8" text-anchor="middle" fill="#231f20">272</text>
<text transform="translate(389.92,683.63) scale(0.95,1)" font-size="7.8" text-anchor="middle" fill="#231f20">223</text>
<text transform="translate(427.38,683.63) scale(0.95,1)" font-size="7.8" text-anchor="middle" fill="#231f20">171</text>
<text transform="translate(464.84,683.63) scale(0.95,1)" font-size="7.8" text-anchor="middle" fill="#231f20">125</text>
<text transform="translate(502.30,683.63) scale(0.95,1)" font-size="7.8" text-anchor="middle" fill="#231f20">84</text>
<rect x="302.90" y="686.41" width="4.1" height="4" fill="#5aa2e4"/>
<text transform="translate(315.00,690.96) scale(0.95,1)" font-size="7.8" text-anchor="middle" fill="#231f20">31</text>
<text transform="translate(352.46,690.96) scale(0.95,1)" font-size="7.8" text-anchor="middle" fill="#231f20">23</text>
<text transform="translate(389.92,690.96) scale(0.95,1)" font-size="7.8" text-anchor="middle" fill="#231f20">15</text>
<text transform="translate(427.38,690.96) scale(0.95,1)" font-size="7.8" text-anchor="middle" fill="#231f20">9</text>
<text transform="translate(464.84,690.96) scale(0.95,1)" font-size="7.8" text-anchor="middle" fill="#231f20">7</text>
<text transform="translate(502.30,690.96) scale(0.95,1)" font-size="7.8" text-anchor="middle" fill="#231f20">6</text>
<polyline points="316.00,495.30 316.59,495.30 316.59,497.15 317.76,497.15 317.76,499.00 318.94,499.00 318.94,500.85 320.11,500.85 320.11,502.70 320.70,502.70 321.75,502.70 321.75,504.23 323.85,504.23 323.85,505.77 325.95,505.77 325.95,507.30 327.00,507.30 328.30,507.30 328.30,509.05 330.90,509.05 330.90,510.80 332.20,510.80 334.20,510.80 334.20,513.10 336.20,513.10 336.78,513.10 336.78,514.63 337.95,514.63 337.95,516.17 339.12,516.17 339.12,517.70 339.70,517.70 340.28,517.70 340.28,519.63 341.45,519.63 341.45,521.57 342.62,521.57 342.62,523.50 343.20,523.50 343.97,523.50 343.97,525.03 345.50,525.03 345.50,526.57 347.03,526.57 347.03,528.10 347.80,528.10 351.25,528.10 351.25,530.40 354.70,530.40 363.90,531.20 372.15,531.20 372.15,532.70 380.40,532.70 388.10,532.70 388.10,534.70 395.80,534.70 400.40,534.70 400.40,536.50 405.00,536.50 414.20,536.80 429.60,536.80 433.45,536.80 433.45,538.10 437.30,538.10 440.00,538.40 441.45,538.40 441.45,539.80 442.90,539.80 451.50,540.20 468.80,540.70 471.35,540.70 471.35,543.10 473.90,543.10 478.90,543.80 502.70,544.60 504.20,545.30 508.50,545.30" fill="none" stroke="#e08a12" stroke-width="1.35" stroke-linejoin="miter" stroke-linecap="butt"/>
<polyline points="316.00,495.30 316.48,495.30 316.48,497.00 317.45,497.00 317.45,498.70 318.42,498.70 318.42,500.40 318.90,500.40 319.05,500.40 319.05,502.27 319.35,502.27 319.35,504.15 319.65,504.15 319.65,506.02 319.95,506.02 319.95,507.90 320.10,507.90 323.50,508.50 324.38,508.50 324.38,510.20 326.12,510.20 326.12,511.90 327.00,511.90 332.20,511.90 332.80,516.50 333.37,516.50 333.37,518.07 334.50,518.07 334.50,519.63 335.63,519.63 335.63,521.20 336.20,521.20 340.80,521.70 341.10,521.70 341.10,523.75 341.70,523.75 341.70,525.80 342.00,525.80 354.70,526.30 355.12,526.30 355.12,527.75 355.97,527.75 355.97,529.20 356.40,529.20 357.85,529.20 357.85,531.00 359.30,531.00 359.90,535.60 366.20,535.60 366.20,540.40 389.30,540.40 389.30,546.10 457.30,546.10 457.30,556.80 467.80,556.80 467.80,566.90" fill="none" stroke="#6cacE2" stroke-width="1.35" stroke-linejoin="miter" stroke-linecap="butt"/>
<polyline points="316.00,495.30 316.68,495.30 316.68,497.20 318.05,497.20 318.05,499.10 319.42,499.10 319.42,501.00 320.10,501.00 326.40,501.00 327.12,501.00 327.12,502.40 328.57,502.40 328.57,503.80 329.30,503.80 330.75,503.80 330.75,506.20 332.20,506.20 332.93,506.20 332.93,507.60 334.38,507.60 334.38,509.00 335.10,509.00 335.83,509.00 335.83,510.45 337.27,510.45 337.27,511.90 338.00,511.90 338.57,511.90 338.57,513.35 339.73,513.35 339.73,514.80 340.30,514.80 341.02,514.80 341.02,516.80 342.48,516.80 342.48,518.80 343.20,518.80 344.05,518.80 344.05,520.85 345.75,520.85 345.75,522.90 346.60,522.90 347.75,522.90 347.75,524.60 348.90,524.60 350.05,524.60 350.05,526.90 351.20,526.90 352.35,526.90 352.35,528.65 354.65,528.65 354.65,530.40 355.80,530.40 356.90,530.40 356.90,531.60 358.00,531.60 412.70,531.60 412.70,534.60 504.20,534.60" fill="none" stroke="#1f3e7c" stroke-width="1.35" stroke-linejoin="miter" stroke-linecap="butt"/>
<polyline points="316.00,495.30 316.36,495.30 316.36,497.15 317.09,497.15 317.09,499.00 317.81,499.00 317.81,500.85 318.54,500.85 318.54,502.70 318.90,502.70 319.67,502.70 319.67,504.23 321.20,504.23 321.20,505.77 322.73,505.77 322.73,507.30 323.50,507.30 324.08,507.30 324.08,509.23 325.25,509.23 325.25,511.17 326.42,511.17 326.42,513.10 327.00,513.10 327.88,513.10 327.88,514.80 329.62,514.80 329.62,516.50 330.50,516.50 330.88,516.50 330.88,518.43 331.65,518.43 331.65,520.37 332.42,520.37 332.42,522.30 332.80,522.30 335.40,522.30 335.40,523.50 338.00,523.50 339.15,523.50 339.15,524.60 340.30,524.60 343.45,524.60 343.45,525.80 346.60,525.80 348.90,525.80 348.90,526.90 351.20,526.90 352.35,526.90 352.35,528.10 353.50,528.10 355.85,528.10 355.85,529.20 358.20,529.20 359.90,529.20 359.90,530.80 361.60,530.80 365.00,530.80 370.40,531.60 411.90,531.90 412.70,534.20 441.90,534.20 442.90,535.60 473.90,535.60 473.90,538.10 494.50,538.10 494.50,541.00 506.60,541.00" fill="none" stroke="#a80a30" stroke-width="1.35" stroke-linejoin="miter" stroke-linecap="butt"/>
<rect x="0.6" y="0.6" width="518.8" height="698.8" fill="none" stroke="#000" stroke-width="1.2"/>
</svg>
</body></html>
